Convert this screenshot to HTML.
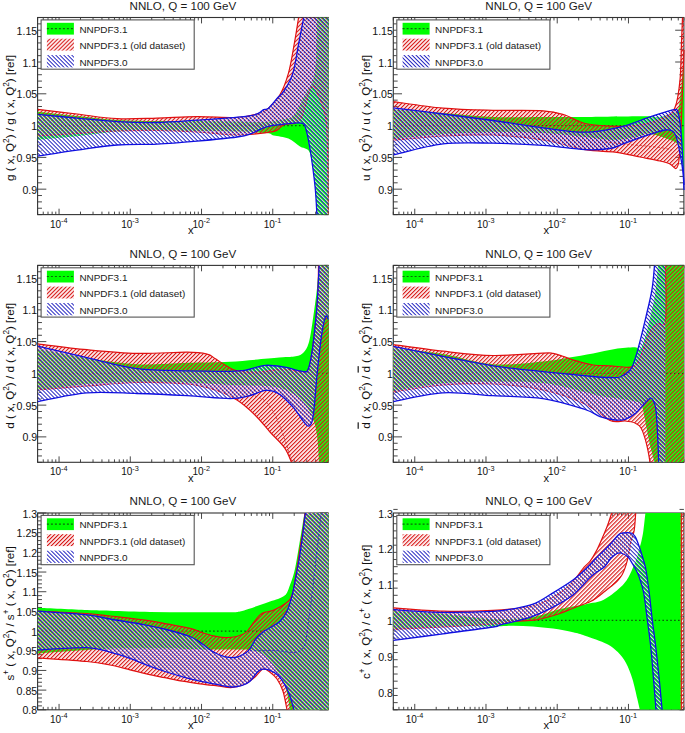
<!DOCTYPE html>
<html><head><meta charset="utf-8"><style>html,body{margin:0;padding:0;background:#fff;overflow:hidden}svg{display:block}</style></head>
<body><svg width="685" height="733" viewBox="0 0 685 733"><defs>
<pattern id="hred" patternUnits="userSpaceOnUse" width="2.83" height="2.83" patternTransform="rotate(45)">
<rect x="0" y="0" width="1.2" height="2.83" fill="#d81818"/><rect x="1.2" y="0" width="0.15" height="2.83" fill="#fff"/></pattern>
<pattern id="hblue" patternUnits="userSpaceOnUse" width="2.83" height="2.83" patternTransform="rotate(-45)">
<rect x="0" y="0" width="1.0" height="2.83" fill="#1c1cc0"/><rect x="1.0" y="0" width="0.7" height="2.83" fill="#fff"/></pattern>
</defs><rect width="685" height="733" fill="#fff"/><g stroke="#333" stroke-width="0.9" fill="none"><line x1="37.60" y1="214.6" x2="37.60" y2="211.64"/><line x1="37.60" y1="17.5" x2="37.60" y2="20.46"/><line x1="43.24" y1="214.6" x2="43.24" y2="211.64"/><line x1="43.24" y1="17.5" x2="43.24" y2="20.46"/><line x1="48.01" y1="214.6" x2="48.01" y2="211.64"/><line x1="48.01" y1="17.5" x2="48.01" y2="20.46"/><line x1="52.14" y1="214.6" x2="52.14" y2="211.64"/><line x1="52.14" y1="17.5" x2="52.14" y2="20.46"/><line x1="55.79" y1="214.6" x2="55.79" y2="211.64"/><line x1="55.79" y1="17.5" x2="55.79" y2="20.46"/><line x1="59.05" y1="214.6" x2="59.05" y2="208.69"/><line x1="59.05" y1="17.5" x2="59.05" y2="23.41"/><line x1="80.49" y1="214.6" x2="80.49" y2="211.64"/><line x1="80.49" y1="17.5" x2="80.49" y2="20.46"/><line x1="93.04" y1="214.6" x2="93.04" y2="211.64"/><line x1="93.04" y1="17.5" x2="93.04" y2="20.46"/><line x1="101.94" y1="214.6" x2="101.94" y2="211.64"/><line x1="101.94" y1="17.5" x2="101.94" y2="20.46"/><line x1="108.84" y1="214.6" x2="108.84" y2="211.64"/><line x1="108.84" y1="17.5" x2="108.84" y2="20.46"/><line x1="114.48" y1="214.6" x2="114.48" y2="211.64"/><line x1="114.48" y1="17.5" x2="114.48" y2="20.46"/><line x1="119.25" y1="214.6" x2="119.25" y2="211.64"/><line x1="119.25" y1="17.5" x2="119.25" y2="20.46"/><line x1="123.38" y1="214.6" x2="123.38" y2="211.64"/><line x1="123.38" y1="17.5" x2="123.38" y2="20.46"/><line x1="127.03" y1="214.6" x2="127.03" y2="211.64"/><line x1="127.03" y1="17.5" x2="127.03" y2="20.46"/><line x1="130.29" y1="214.6" x2="130.29" y2="208.69"/><line x1="130.29" y1="17.5" x2="130.29" y2="23.41"/><line x1="151.73" y1="214.6" x2="151.73" y2="211.64"/><line x1="151.73" y1="17.5" x2="151.73" y2="20.46"/><line x1="164.28" y1="214.6" x2="164.28" y2="211.64"/><line x1="164.28" y1="17.5" x2="164.28" y2="20.46"/><line x1="173.18" y1="214.6" x2="173.18" y2="211.64"/><line x1="173.18" y1="17.5" x2="173.18" y2="20.46"/><line x1="180.08" y1="214.6" x2="180.08" y2="211.64"/><line x1="180.08" y1="17.5" x2="180.08" y2="20.46"/><line x1="185.72" y1="214.6" x2="185.72" y2="211.64"/><line x1="185.72" y1="17.5" x2="185.72" y2="20.46"/><line x1="190.49" y1="214.6" x2="190.49" y2="211.64"/><line x1="190.49" y1="17.5" x2="190.49" y2="20.46"/><line x1="194.62" y1="214.6" x2="194.62" y2="211.64"/><line x1="194.62" y1="17.5" x2="194.62" y2="20.46"/><line x1="198.27" y1="214.6" x2="198.27" y2="211.64"/><line x1="198.27" y1="17.5" x2="198.27" y2="20.46"/><line x1="201.52" y1="214.6" x2="201.52" y2="208.69"/><line x1="201.52" y1="17.5" x2="201.52" y2="23.41"/><line x1="222.97" y1="214.6" x2="222.97" y2="211.64"/><line x1="222.97" y1="17.5" x2="222.97" y2="20.46"/><line x1="235.51" y1="214.6" x2="235.51" y2="211.64"/><line x1="235.51" y1="17.5" x2="235.51" y2="20.46"/><line x1="244.42" y1="214.6" x2="244.42" y2="211.64"/><line x1="244.42" y1="17.5" x2="244.42" y2="20.46"/><line x1="251.32" y1="214.6" x2="251.32" y2="211.64"/><line x1="251.32" y1="17.5" x2="251.32" y2="20.46"/><line x1="256.96" y1="214.6" x2="256.96" y2="211.64"/><line x1="256.96" y1="17.5" x2="256.96" y2="20.46"/><line x1="261.73" y1="214.6" x2="261.73" y2="211.64"/><line x1="261.73" y1="17.5" x2="261.73" y2="20.46"/><line x1="265.86" y1="214.6" x2="265.86" y2="211.64"/><line x1="265.86" y1="17.5" x2="265.86" y2="20.46"/><line x1="269.50" y1="214.6" x2="269.50" y2="211.64"/><line x1="269.50" y1="17.5" x2="269.50" y2="20.46"/><line x1="272.76" y1="214.6" x2="272.76" y2="208.69"/><line x1="272.76" y1="17.5" x2="272.76" y2="23.41"/><line x1="294.21" y1="214.6" x2="294.21" y2="211.64"/><line x1="294.21" y1="17.5" x2="294.21" y2="20.46"/><line x1="306.75" y1="214.6" x2="306.75" y2="211.64"/><line x1="306.75" y1="17.5" x2="306.75" y2="20.46"/><line x1="315.66" y1="214.6" x2="315.66" y2="211.64"/><line x1="315.66" y1="17.5" x2="315.66" y2="20.46"/><line x1="322.56" y1="214.6" x2="322.56" y2="211.64"/><line x1="322.56" y1="17.5" x2="322.56" y2="20.46"/><line x1="328.20" y1="214.6" x2="328.20" y2="211.64"/><line x1="328.20" y1="17.5" x2="328.20" y2="20.46"/><line x1="37.6" y1="214.60" x2="41.96" y2="214.60"/><line x1="328.20000000000005" y1="214.60" x2="323.84" y2="214.60"/><line x1="37.6" y1="208.24" x2="41.96" y2="208.24"/><line x1="328.20000000000005" y1="208.24" x2="323.84" y2="208.24"/><line x1="37.6" y1="201.88" x2="41.96" y2="201.88"/><line x1="328.20000000000005" y1="201.88" x2="323.84" y2="201.88"/><line x1="37.6" y1="195.53" x2="41.96" y2="195.53"/><line x1="328.20000000000005" y1="195.53" x2="323.84" y2="195.53"/><line x1="37.6" y1="189.17" x2="46.32" y2="189.17"/><line x1="328.20000000000005" y1="189.17" x2="319.48" y2="189.17"/><line x1="37.6" y1="182.81" x2="41.96" y2="182.81"/><line x1="328.20000000000005" y1="182.81" x2="323.84" y2="182.81"/><line x1="37.6" y1="176.45" x2="41.96" y2="176.45"/><line x1="328.20000000000005" y1="176.45" x2="323.84" y2="176.45"/><line x1="37.6" y1="170.09" x2="41.96" y2="170.09"/><line x1="328.20000000000005" y1="170.09" x2="323.84" y2="170.09"/><line x1="37.6" y1="163.74" x2="41.96" y2="163.74"/><line x1="328.20000000000005" y1="163.74" x2="323.84" y2="163.74"/><line x1="37.6" y1="157.38" x2="46.32" y2="157.38"/><line x1="328.20000000000005" y1="157.38" x2="319.48" y2="157.38"/><line x1="37.6" y1="151.02" x2="41.96" y2="151.02"/><line x1="328.20000000000005" y1="151.02" x2="323.84" y2="151.02"/><line x1="37.6" y1="144.66" x2="41.96" y2="144.66"/><line x1="328.20000000000005" y1="144.66" x2="323.84" y2="144.66"/><line x1="37.6" y1="138.30" x2="41.96" y2="138.30"/><line x1="328.20000000000005" y1="138.30" x2="323.84" y2="138.30"/><line x1="37.6" y1="131.95" x2="41.96" y2="131.95"/><line x1="328.20000000000005" y1="131.95" x2="323.84" y2="131.95"/><line x1="37.6" y1="125.59" x2="46.32" y2="125.59"/><line x1="328.20000000000005" y1="125.59" x2="319.48" y2="125.59"/><line x1="37.6" y1="119.23" x2="41.96" y2="119.23"/><line x1="328.20000000000005" y1="119.23" x2="323.84" y2="119.23"/><line x1="37.6" y1="112.87" x2="41.96" y2="112.87"/><line x1="328.20000000000005" y1="112.87" x2="323.84" y2="112.87"/><line x1="37.6" y1="106.51" x2="41.96" y2="106.51"/><line x1="328.20000000000005" y1="106.51" x2="323.84" y2="106.51"/><line x1="37.6" y1="100.15" x2="41.96" y2="100.15"/><line x1="328.20000000000005" y1="100.15" x2="323.84" y2="100.15"/><line x1="37.6" y1="93.80" x2="46.32" y2="93.80"/><line x1="328.20000000000005" y1="93.80" x2="319.48" y2="93.80"/><line x1="37.6" y1="87.44" x2="41.96" y2="87.44"/><line x1="328.20000000000005" y1="87.44" x2="323.84" y2="87.44"/><line x1="37.6" y1="81.08" x2="41.96" y2="81.08"/><line x1="328.20000000000005" y1="81.08" x2="323.84" y2="81.08"/><line x1="37.6" y1="74.72" x2="41.96" y2="74.72"/><line x1="328.20000000000005" y1="74.72" x2="323.84" y2="74.72"/><line x1="37.6" y1="68.36" x2="41.96" y2="68.36"/><line x1="328.20000000000005" y1="68.36" x2="323.84" y2="68.36"/><line x1="37.6" y1="62.01" x2="46.32" y2="62.01"/><line x1="328.20000000000005" y1="62.01" x2="319.48" y2="62.01"/><line x1="37.6" y1="55.65" x2="41.96" y2="55.65"/><line x1="328.20000000000005" y1="55.65" x2="323.84" y2="55.65"/><line x1="37.6" y1="49.29" x2="41.96" y2="49.29"/><line x1="328.20000000000005" y1="49.29" x2="323.84" y2="49.29"/><line x1="37.6" y1="42.93" x2="41.96" y2="42.93"/><line x1="328.20000000000005" y1="42.93" x2="323.84" y2="42.93"/><line x1="37.6" y1="36.57" x2="41.96" y2="36.57"/><line x1="328.20000000000005" y1="36.57" x2="323.84" y2="36.57"/><line x1="37.6" y1="30.22" x2="46.32" y2="30.22"/><line x1="328.20000000000005" y1="30.22" x2="319.48" y2="30.22"/><line x1="37.6" y1="23.86" x2="41.96" y2="23.86"/><line x1="328.20000000000005" y1="23.86" x2="323.84" y2="23.86"/><line x1="37.6" y1="17.50" x2="41.96" y2="17.50"/><line x1="328.20000000000005" y1="17.50" x2="323.84" y2="17.50"/></g>
<rect x="37.6" y="17.5" width="290.6" height="197.10" fill="none" stroke="#333" stroke-width="1.1"/>
<g font-family="Liberation Sans" fill="#111"><text x="37.20" y="193.77" text-anchor="end" font-size="10.6">0.9</text><text x="37.20" y="161.98" text-anchor="end" font-size="10.6">0.95</text><text x="37.20" y="130.19" text-anchor="end" font-size="10.6">1</text><text x="37.20" y="98.40" text-anchor="end" font-size="10.6">1.05</text><text x="37.20" y="66.61" text-anchor="end" font-size="10.6">1.1</text><text x="37.20" y="34.82" text-anchor="end" font-size="10.6">1.15</text><text x="49.95" y="227.50" font-size="10">10<tspan dy="-4.4" font-size="7.3">-4</tspan></text><text x="121.19" y="227.50" font-size="10">10<tspan dy="-4.4" font-size="7.3">-3</tspan></text><text x="192.42" y="227.50" font-size="10">10<tspan dy="-4.4" font-size="7.3">-2</tspan></text><text x="263.66" y="227.50" font-size="10">10<tspan dy="-4.4" font-size="7.3">-1</tspan></text></g>
<text x="187.90" y="233.90" font-family="Liberation Sans" font-size="11.2" fill="#111">x</text>
<text x="182.90" y="9.9" transform="translate(0,0.00)" text-anchor="middle" font-family="Liberation Sans" font-size="11.6" fill="#1a1a1a">NNLO, Q = 100 GeV</text>
<text transform="translate(13.90,118.05) rotate(-90)" text-anchor="middle" font-family="Liberation Sans" font-size="11.6" fill="#111">g ( x, Q<tspan dy="-4.8" font-size="8.3">2</tspan><tspan dy="4.8">) / </tspan>g ( x, Q<tspan dy="-4.8" font-size="8.3">2</tspan><tspan dy="4.8">) [ref]</tspan></text>
<clipPath id="clip0"><rect x="37.6" y="17.5" width="291.8" height="197.10"/></clipPath>
<g clip-path="url(#clip0)">
<path d="M37.60,111.70 C44.17,112.42 63.77,114.62 77.00,116.00 C90.23,117.38 103.67,119.17 117.00,120.00 C130.33,120.83 143.67,120.83 157.00,121.00 C170.33,121.17 183.67,120.92 197.00,121.00 C210.33,121.08 225.50,121.33 237.00,121.50 C248.50,121.67 258.00,122.42 266.00,122.00 C274.00,121.58 280.33,120.17 285.00,119.00 C289.67,117.83 290.67,119.00 294.00,115.00 C297.33,111.00 301.83,100.83 305.00,95.00 C308.17,89.17 311.17,85.83 313.00,80.00 C314.83,74.17 315.33,70.42 316.00,60.00 C316.67,49.58 316.83,24.58 317.00,17.50 L328.60,17.50 L328.60,214.60L316.90,214.60 C316.65,210.55 316.13,198.48 315.40,190.30 C314.67,182.12 313.47,171.83 312.50,165.50 C311.53,159.17 310.70,155.10 309.60,152.30 C308.50,149.50 307.50,149.67 305.90,148.70 C304.30,147.73 302.92,148.20 300.00,146.50 C297.08,144.80 292.77,140.33 288.40,138.50 C284.03,136.67 277.45,136.42 273.80,135.50 C270.15,134.58 272.63,133.67 266.50,133.00 C260.37,132.33 248.58,131.83 237.00,131.50 C225.42,131.17 210.33,131.17 197.00,131.00 C183.67,130.83 170.33,130.42 157.00,130.50 C143.67,130.58 130.33,130.55 117.00,131.50 C103.67,132.45 90.23,134.83 77.00,136.20 C63.77,137.57 44.17,139.12 37.60,139.70 Z" fill="#00ff00"/>
<clipPath id="gclip0"><path d="M37.60,111.70 C44.17,112.42 63.77,114.62 77.00,116.00 C90.23,117.38 103.67,119.17 117.00,120.00 C130.33,120.83 143.67,120.83 157.00,121.00 C170.33,121.17 183.67,120.92 197.00,121.00 C210.33,121.08 225.50,121.33 237.00,121.50 C248.50,121.67 258.00,122.42 266.00,122.00 C274.00,121.58 280.33,120.17 285.00,119.00 C289.67,117.83 290.67,119.00 294.00,115.00 C297.33,111.00 301.83,100.83 305.00,95.00 C308.17,89.17 311.17,85.83 313.00,80.00 C314.83,74.17 315.33,70.42 316.00,60.00 C316.67,49.58 316.83,24.58 317.00,17.50 L328.60,17.50 L328.60,214.60L316.90,214.60 C316.65,210.55 316.13,198.48 315.40,190.30 C314.67,182.12 313.47,171.83 312.50,165.50 C311.53,159.17 310.70,155.10 309.60,152.30 C308.50,149.50 307.50,149.67 305.90,148.70 C304.30,147.73 302.92,148.20 300.00,146.50 C297.08,144.80 292.77,140.33 288.40,138.50 C284.03,136.67 277.45,136.42 273.80,135.50 C270.15,134.58 272.63,133.67 266.50,133.00 C260.37,132.33 248.58,131.83 237.00,131.50 C225.42,131.17 210.33,131.17 197.00,131.00 C183.67,130.83 170.33,130.42 157.00,130.50 C143.67,130.58 130.33,130.55 117.00,131.50 C103.67,132.45 90.23,134.83 77.00,136.20 C63.77,137.57 44.17,139.12 37.60,139.70 Z"/></clipPath>
<line x1="37.6" y1="125.59" x2="328.20000000000005" y2="125.59" stroke="#0b5a0b" stroke-width="1.2" stroke-dasharray="1.6,2.3" clip-path="url(#gclip0)"/>
<path d="M37.60,109.30 C44.17,110.08 63.77,112.43 77.00,114.00 C90.23,115.57 103.67,118.02 117.00,118.70 C130.33,119.38 143.67,118.45 157.00,118.10 C170.33,117.75 183.67,116.70 197.00,116.60 C210.33,116.50 227.00,117.93 237.00,117.50 C247.00,117.07 252.08,115.27 257.00,114.00 C261.92,112.73 262.73,113.02 266.50,109.90 C270.27,106.78 275.95,101.38 279.60,95.30 C283.25,89.22 285.97,81.92 288.40,73.40 C290.83,64.88 292.50,53.52 294.20,44.20 C295.90,34.88 297.87,21.95 298.60,17.50 L328.60,17.50 L328.60,214.60L328.00,214.60 C327.93,205.50 327.93,175.77 327.60,160.00 C327.27,144.23 327.60,130.83 326.00,120.00 C324.40,109.17 320.50,100.33 318.00,95.00 C315.50,89.67 314.00,83.83 311.00,88.00 C308.00,92.17 304.50,113.90 300.00,120.00 C295.50,126.10 287.88,122.87 284.00,124.60 C280.12,126.33 279.62,129.07 276.70,130.40 C273.78,131.73 273.12,131.83 266.50,132.60 C259.88,133.37 248.58,135.10 237.00,135.00 C225.42,134.90 210.33,132.75 197.00,132.00 C183.67,131.25 170.33,130.67 157.00,130.50 C143.67,130.33 130.33,130.50 117.00,131.00 C103.67,131.50 90.23,132.67 77.00,133.50 C63.77,134.33 44.17,135.58 37.60,136.00 Z" fill="url(#hred)"/>
<path d="M37.60,109.30 C44.17,110.08 63.77,112.43 77.00,114.00 C90.23,115.57 103.67,118.02 117.00,118.70 C130.33,119.38 143.67,118.45 157.00,118.10 C170.33,117.75 183.67,116.70 197.00,116.60 C210.33,116.50 227.00,117.93 237.00,117.50 C247.00,117.07 252.08,115.27 257.00,114.00 C261.92,112.73 262.73,113.02 266.50,109.90 C270.27,106.78 275.95,101.38 279.60,95.30 C283.25,89.22 285.97,81.92 288.40,73.40 C290.83,64.88 292.50,53.52 294.20,44.20 C295.90,34.88 297.87,21.95 298.60,17.50" fill="none" stroke="#e01010" stroke-width="1.2"/>
<path d="M37.60,136.00 C44.17,135.58 63.77,134.33 77.00,133.50 C90.23,132.67 103.67,131.50 117.00,131.00 C130.33,130.50 143.67,130.33 157.00,130.50 C170.33,130.67 183.67,131.25 197.00,132.00 C210.33,132.75 225.42,134.90 237.00,135.00 C248.58,135.10 259.88,133.37 266.50,132.60 C273.12,131.83 273.78,131.73 276.70,130.40 C279.62,129.07 280.12,126.33 284.00,124.60 C287.88,122.87 295.50,126.10 300.00,120.00 C304.50,113.90 308.00,92.17 311.00,88.00 C314.00,83.83 315.50,89.67 318.00,95.00 C320.50,100.33 324.40,109.17 326.00,120.00 C327.60,130.83 327.27,144.23 327.60,160.00 C327.93,175.77 327.93,205.50 328.00,214.60" fill="none" stroke="#e01010" stroke-width="1.2"/>
<path d="M37.60,114.30 C44.17,114.93 63.77,116.88 77.00,118.10 C90.23,119.32 103.67,120.87 117.00,121.60 C130.33,122.33 143.67,122.75 157.00,122.50 C170.33,122.25 182.55,121.08 197.00,120.10 C211.45,119.12 233.58,117.67 243.70,116.60 C253.82,115.53 254.38,114.87 257.70,113.70 C261.02,112.53 261.85,110.48 263.60,109.60 C265.35,108.72 265.97,110.25 268.20,108.40 C270.43,106.55 274.37,101.42 277.00,98.50 C279.63,95.58 281.37,95.08 284.00,90.90 C286.63,86.72 290.37,81.18 292.80,73.40 C295.23,65.62 296.78,53.52 298.60,44.20 C300.42,34.88 302.85,21.95 303.70,17.50 L328.60,17.50 L328.60,214.60L316.90,214.60 C316.65,210.55 316.13,198.48 315.40,190.30 C314.67,182.12 313.47,172.80 312.50,165.50 C311.53,158.20 310.70,152.58 309.60,146.50 C308.50,140.42 307.25,132.90 305.90,129.00 C304.55,125.10 304.90,123.95 301.50,123.10 C298.10,122.25 291.33,123.28 285.50,123.90 C279.67,124.52 272.10,125.22 266.50,126.80 C260.90,128.38 256.82,131.70 251.90,133.40 C246.98,135.10 246.15,135.72 237.00,137.00 C227.85,138.28 210.33,139.92 197.00,141.10 C183.67,142.28 170.33,143.45 157.00,144.10 C143.67,144.75 130.33,143.98 117.00,145.00 C103.67,146.02 90.23,148.35 77.00,150.20 C63.77,152.05 44.17,155.12 37.60,156.10 Z" fill="url(#hblue)"/>
<path d="M37.60,114.30 C44.17,114.93 63.77,116.88 77.00,118.10 C90.23,119.32 103.67,120.87 117.00,121.60 C130.33,122.33 143.67,122.75 157.00,122.50 C170.33,122.25 182.55,121.08 197.00,120.10 C211.45,119.12 233.58,117.67 243.70,116.60 C253.82,115.53 254.38,114.87 257.70,113.70 C261.02,112.53 261.85,110.48 263.60,109.60 C265.35,108.72 265.97,110.25 268.20,108.40 C270.43,106.55 274.37,101.42 277.00,98.50 C279.63,95.58 281.37,95.08 284.00,90.90 C286.63,86.72 290.37,81.18 292.80,73.40 C295.23,65.62 296.78,53.52 298.60,44.20 C300.42,34.88 302.85,21.95 303.70,17.50" fill="none" stroke="#1010e0" stroke-width="1.3"/>
<path d="M37.60,156.10 C44.17,155.12 63.77,152.05 77.00,150.20 C90.23,148.35 103.67,146.02 117.00,145.00 C130.33,143.98 143.67,144.75 157.00,144.10 C170.33,143.45 183.67,142.28 197.00,141.10 C210.33,139.92 227.85,138.28 237.00,137.00 C246.15,135.72 246.98,135.10 251.90,133.40 C256.82,131.70 260.90,128.38 266.50,126.80 C272.10,125.22 279.67,124.52 285.50,123.90 C291.33,123.28 298.10,122.25 301.50,123.10 C304.90,123.95 304.55,125.10 305.90,129.00 C307.25,132.90 308.50,140.42 309.60,146.50 C310.70,152.58 311.53,158.20 312.50,165.50 C313.47,172.80 314.67,182.12 315.40,190.30 C316.13,198.48 316.65,210.55 316.90,214.60" fill="none" stroke="#1010e0" stroke-width="1.3"/>
</g>
<g stroke="#333" stroke-width="0.9" fill="none"><line x1="393.30" y1="214.6" x2="393.30" y2="211.64"/><line x1="393.30" y1="17.5" x2="393.30" y2="20.46"/><line x1="398.94" y1="214.6" x2="398.94" y2="211.64"/><line x1="398.94" y1="17.5" x2="398.94" y2="20.46"/><line x1="403.71" y1="214.6" x2="403.71" y2="211.64"/><line x1="403.71" y1="17.5" x2="403.71" y2="20.46"/><line x1="407.84" y1="214.6" x2="407.84" y2="211.64"/><line x1="407.84" y1="17.5" x2="407.84" y2="20.46"/><line x1="411.49" y1="214.6" x2="411.49" y2="211.64"/><line x1="411.49" y1="17.5" x2="411.49" y2="20.46"/><line x1="414.75" y1="214.6" x2="414.75" y2="208.69"/><line x1="414.75" y1="17.5" x2="414.75" y2="23.41"/><line x1="436.19" y1="214.6" x2="436.19" y2="211.64"/><line x1="436.19" y1="17.5" x2="436.19" y2="20.46"/><line x1="448.74" y1="214.6" x2="448.74" y2="211.64"/><line x1="448.74" y1="17.5" x2="448.74" y2="20.46"/><line x1="457.64" y1="214.6" x2="457.64" y2="211.64"/><line x1="457.64" y1="17.5" x2="457.64" y2="20.46"/><line x1="464.54" y1="214.6" x2="464.54" y2="211.64"/><line x1="464.54" y1="17.5" x2="464.54" y2="20.46"/><line x1="470.18" y1="214.6" x2="470.18" y2="211.64"/><line x1="470.18" y1="17.5" x2="470.18" y2="20.46"/><line x1="474.95" y1="214.6" x2="474.95" y2="211.64"/><line x1="474.95" y1="17.5" x2="474.95" y2="20.46"/><line x1="479.08" y1="214.6" x2="479.08" y2="211.64"/><line x1="479.08" y1="17.5" x2="479.08" y2="20.46"/><line x1="482.73" y1="214.6" x2="482.73" y2="211.64"/><line x1="482.73" y1="17.5" x2="482.73" y2="20.46"/><line x1="485.99" y1="214.6" x2="485.99" y2="208.69"/><line x1="485.99" y1="17.5" x2="485.99" y2="23.41"/><line x1="507.43" y1="214.6" x2="507.43" y2="211.64"/><line x1="507.43" y1="17.5" x2="507.43" y2="20.46"/><line x1="519.98" y1="214.6" x2="519.98" y2="211.64"/><line x1="519.98" y1="17.5" x2="519.98" y2="20.46"/><line x1="528.88" y1="214.6" x2="528.88" y2="211.64"/><line x1="528.88" y1="17.5" x2="528.88" y2="20.46"/><line x1="535.78" y1="214.6" x2="535.78" y2="211.64"/><line x1="535.78" y1="17.5" x2="535.78" y2="20.46"/><line x1="541.42" y1="214.6" x2="541.42" y2="211.64"/><line x1="541.42" y1="17.5" x2="541.42" y2="20.46"/><line x1="546.19" y1="214.6" x2="546.19" y2="211.64"/><line x1="546.19" y1="17.5" x2="546.19" y2="20.46"/><line x1="550.32" y1="214.6" x2="550.32" y2="211.64"/><line x1="550.32" y1="17.5" x2="550.32" y2="20.46"/><line x1="553.97" y1="214.6" x2="553.97" y2="211.64"/><line x1="553.97" y1="17.5" x2="553.97" y2="20.46"/><line x1="557.22" y1="214.6" x2="557.22" y2="208.69"/><line x1="557.22" y1="17.5" x2="557.22" y2="23.41"/><line x1="578.67" y1="214.6" x2="578.67" y2="211.64"/><line x1="578.67" y1="17.5" x2="578.67" y2="20.46"/><line x1="591.21" y1="214.6" x2="591.21" y2="211.64"/><line x1="591.21" y1="17.5" x2="591.21" y2="20.46"/><line x1="600.12" y1="214.6" x2="600.12" y2="211.64"/><line x1="600.12" y1="17.5" x2="600.12" y2="20.46"/><line x1="607.02" y1="214.6" x2="607.02" y2="211.64"/><line x1="607.02" y1="17.5" x2="607.02" y2="20.46"/><line x1="612.66" y1="214.6" x2="612.66" y2="211.64"/><line x1="612.66" y1="17.5" x2="612.66" y2="20.46"/><line x1="617.43" y1="214.6" x2="617.43" y2="211.64"/><line x1="617.43" y1="17.5" x2="617.43" y2="20.46"/><line x1="621.56" y1="214.6" x2="621.56" y2="211.64"/><line x1="621.56" y1="17.5" x2="621.56" y2="20.46"/><line x1="625.20" y1="214.6" x2="625.20" y2="211.64"/><line x1="625.20" y1="17.5" x2="625.20" y2="20.46"/><line x1="628.46" y1="214.6" x2="628.46" y2="208.69"/><line x1="628.46" y1="17.5" x2="628.46" y2="23.41"/><line x1="649.91" y1="214.6" x2="649.91" y2="211.64"/><line x1="649.91" y1="17.5" x2="649.91" y2="20.46"/><line x1="662.45" y1="214.6" x2="662.45" y2="211.64"/><line x1="662.45" y1="17.5" x2="662.45" y2="20.46"/><line x1="671.36" y1="214.6" x2="671.36" y2="211.64"/><line x1="671.36" y1="17.5" x2="671.36" y2="20.46"/><line x1="678.26" y1="214.6" x2="678.26" y2="211.64"/><line x1="678.26" y1="17.5" x2="678.26" y2="20.46"/><line x1="683.90" y1="214.6" x2="683.90" y2="211.64"/><line x1="683.90" y1="17.5" x2="683.90" y2="20.46"/><line x1="393.3" y1="214.60" x2="397.66" y2="214.60"/><line x1="683.9000000000001" y1="214.60" x2="679.54" y2="214.60"/><line x1="393.3" y1="208.24" x2="397.66" y2="208.24"/><line x1="683.9000000000001" y1="208.24" x2="679.54" y2="208.24"/><line x1="393.3" y1="201.88" x2="397.66" y2="201.88"/><line x1="683.9000000000001" y1="201.88" x2="679.54" y2="201.88"/><line x1="393.3" y1="195.53" x2="397.66" y2="195.53"/><line x1="683.9000000000001" y1="195.53" x2="679.54" y2="195.53"/><line x1="393.3" y1="189.17" x2="402.02" y2="189.17"/><line x1="683.9000000000001" y1="189.17" x2="675.18" y2="189.17"/><line x1="393.3" y1="182.81" x2="397.66" y2="182.81"/><line x1="683.9000000000001" y1="182.81" x2="679.54" y2="182.81"/><line x1="393.3" y1="176.45" x2="397.66" y2="176.45"/><line x1="683.9000000000001" y1="176.45" x2="679.54" y2="176.45"/><line x1="393.3" y1="170.09" x2="397.66" y2="170.09"/><line x1="683.9000000000001" y1="170.09" x2="679.54" y2="170.09"/><line x1="393.3" y1="163.74" x2="397.66" y2="163.74"/><line x1="683.9000000000001" y1="163.74" x2="679.54" y2="163.74"/><line x1="393.3" y1="157.38" x2="402.02" y2="157.38"/><line x1="683.9000000000001" y1="157.38" x2="675.18" y2="157.38"/><line x1="393.3" y1="151.02" x2="397.66" y2="151.02"/><line x1="683.9000000000001" y1="151.02" x2="679.54" y2="151.02"/><line x1="393.3" y1="144.66" x2="397.66" y2="144.66"/><line x1="683.9000000000001" y1="144.66" x2="679.54" y2="144.66"/><line x1="393.3" y1="138.30" x2="397.66" y2="138.30"/><line x1="683.9000000000001" y1="138.30" x2="679.54" y2="138.30"/><line x1="393.3" y1="131.95" x2="397.66" y2="131.95"/><line x1="683.9000000000001" y1="131.95" x2="679.54" y2="131.95"/><line x1="393.3" y1="125.59" x2="402.02" y2="125.59"/><line x1="683.9000000000001" y1="125.59" x2="675.18" y2="125.59"/><line x1="393.3" y1="119.23" x2="397.66" y2="119.23"/><line x1="683.9000000000001" y1="119.23" x2="679.54" y2="119.23"/><line x1="393.3" y1="112.87" x2="397.66" y2="112.87"/><line x1="683.9000000000001" y1="112.87" x2="679.54" y2="112.87"/><line x1="393.3" y1="106.51" x2="397.66" y2="106.51"/><line x1="683.9000000000001" y1="106.51" x2="679.54" y2="106.51"/><line x1="393.3" y1="100.15" x2="397.66" y2="100.15"/><line x1="683.9000000000001" y1="100.15" x2="679.54" y2="100.15"/><line x1="393.3" y1="93.80" x2="402.02" y2="93.80"/><line x1="683.9000000000001" y1="93.80" x2="675.18" y2="93.80"/><line x1="393.3" y1="87.44" x2="397.66" y2="87.44"/><line x1="683.9000000000001" y1="87.44" x2="679.54" y2="87.44"/><line x1="393.3" y1="81.08" x2="397.66" y2="81.08"/><line x1="683.9000000000001" y1="81.08" x2="679.54" y2="81.08"/><line x1="393.3" y1="74.72" x2="397.66" y2="74.72"/><line x1="683.9000000000001" y1="74.72" x2="679.54" y2="74.72"/><line x1="393.3" y1="68.36" x2="397.66" y2="68.36"/><line x1="683.9000000000001" y1="68.36" x2="679.54" y2="68.36"/><line x1="393.3" y1="62.01" x2="402.02" y2="62.01"/><line x1="683.9000000000001" y1="62.01" x2="675.18" y2="62.01"/><line x1="393.3" y1="55.65" x2="397.66" y2="55.65"/><line x1="683.9000000000001" y1="55.65" x2="679.54" y2="55.65"/><line x1="393.3" y1="49.29" x2="397.66" y2="49.29"/><line x1="683.9000000000001" y1="49.29" x2="679.54" y2="49.29"/><line x1="393.3" y1="42.93" x2="397.66" y2="42.93"/><line x1="683.9000000000001" y1="42.93" x2="679.54" y2="42.93"/><line x1="393.3" y1="36.57" x2="397.66" y2="36.57"/><line x1="683.9000000000001" y1="36.57" x2="679.54" y2="36.57"/><line x1="393.3" y1="30.22" x2="402.02" y2="30.22"/><line x1="683.9000000000001" y1="30.22" x2="675.18" y2="30.22"/><line x1="393.3" y1="23.86" x2="397.66" y2="23.86"/><line x1="683.9000000000001" y1="23.86" x2="679.54" y2="23.86"/><line x1="393.3" y1="17.50" x2="397.66" y2="17.50"/><line x1="683.9000000000001" y1="17.50" x2="679.54" y2="17.50"/></g>
<rect x="393.3" y="17.5" width="290.6" height="197.10" fill="none" stroke="#333" stroke-width="1.1"/>
<g font-family="Liberation Sans" fill="#111"><text x="392.90" y="193.77" text-anchor="end" font-size="10.6">0.9</text><text x="392.90" y="161.98" text-anchor="end" font-size="10.6">0.95</text><text x="392.90" y="130.19" text-anchor="end" font-size="10.6">1</text><text x="392.90" y="98.40" text-anchor="end" font-size="10.6">1.05</text><text x="392.90" y="66.61" text-anchor="end" font-size="10.6">1.1</text><text x="392.90" y="34.82" text-anchor="end" font-size="10.6">1.15</text><text x="405.65" y="227.50" font-size="10">10<tspan dy="-4.4" font-size="7.3">-4</tspan></text><text x="476.89" y="227.50" font-size="10">10<tspan dy="-4.4" font-size="7.3">-3</tspan></text><text x="548.12" y="227.50" font-size="10">10<tspan dy="-4.4" font-size="7.3">-2</tspan></text><text x="619.36" y="227.50" font-size="10">10<tspan dy="-4.4" font-size="7.3">-1</tspan></text></g>
<text x="543.60" y="233.90" font-family="Liberation Sans" font-size="11.2" fill="#111">x</text>
<text x="538.60" y="9.9" transform="translate(0,0.00)" text-anchor="middle" font-family="Liberation Sans" font-size="11.6" fill="#1a1a1a">NNLO, Q = 100 GeV</text>
<text transform="translate(369.60,118.05) rotate(-90)" text-anchor="middle" font-family="Liberation Sans" font-size="11.6" fill="#111">u ( x, Q<tspan dy="-4.8" font-size="8.3">2</tspan><tspan dy="4.8">) / </tspan>u ( x, Q<tspan dy="-4.8" font-size="8.3">2</tspan><tspan dy="4.8">) [ref]</tspan></text>
<clipPath id="clip1"><rect x="393.3" y="17.5" width="291.8" height="197.10"/></clipPath>
<g clip-path="url(#clip1)">
<path d="M393.30,109.60 C401.58,110.17 426.38,111.77 443.00,113.00 C459.62,114.23 476.33,116.35 493.00,117.00 C509.67,117.65 527.67,116.92 543.00,116.90 C558.33,116.88 568.00,117.02 585.00,116.90 C602.00,116.78 632.50,116.18 645.00,116.20 C657.50,116.22 655.50,117.53 660.00,117.00 C664.50,116.47 669.00,114.17 672.00,113.00 C675.00,111.83 676.50,113.83 678.00,110.00 C679.50,106.17 680.00,98.33 681.00,90.00 C682.00,81.67 683.50,65.00 684.00,60.00 L684.00,60.00L684.00,175.00 C683.67,172.50 683.00,165.00 682.00,160.00 C681.00,155.00 680.00,148.35 678.00,145.00 C676.00,141.65 674.67,141.78 670.00,139.90 C665.33,138.02 655.00,134.35 650.00,133.70 C645.00,133.05 645.83,134.95 640.00,136.00 C634.17,137.05 624.17,139.83 615.00,140.00 C605.83,140.17 597.00,138.17 585.00,137.00 C573.00,135.83 558.33,133.83 543.00,133.00 C527.67,132.17 509.67,131.83 493.00,132.00 C476.33,132.17 459.62,132.87 443.00,134.00 C426.38,135.13 401.58,138.00 393.30,138.80 Z" fill="#00ff00"/>
<clipPath id="gclip1"><path d="M393.30,109.60 C401.58,110.17 426.38,111.77 443.00,113.00 C459.62,114.23 476.33,116.35 493.00,117.00 C509.67,117.65 527.67,116.92 543.00,116.90 C558.33,116.88 568.00,117.02 585.00,116.90 C602.00,116.78 632.50,116.18 645.00,116.20 C657.50,116.22 655.50,117.53 660.00,117.00 C664.50,116.47 669.00,114.17 672.00,113.00 C675.00,111.83 676.50,113.83 678.00,110.00 C679.50,106.17 680.00,98.33 681.00,90.00 C682.00,81.67 683.50,65.00 684.00,60.00 L684.00,60.00L684.00,175.00 C683.67,172.50 683.00,165.00 682.00,160.00 C681.00,155.00 680.00,148.35 678.00,145.00 C676.00,141.65 674.67,141.78 670.00,139.90 C665.33,138.02 655.00,134.35 650.00,133.70 C645.00,133.05 645.83,134.95 640.00,136.00 C634.17,137.05 624.17,139.83 615.00,140.00 C605.83,140.17 597.00,138.17 585.00,137.00 C573.00,135.83 558.33,133.83 543.00,133.00 C527.67,132.17 509.67,131.83 493.00,132.00 C476.33,132.17 459.62,132.87 443.00,134.00 C426.38,135.13 401.58,138.00 393.30,138.80 Z"/></clipPath>
<line x1="393.3" y1="125.59" x2="683.9000000000001" y2="125.59" stroke="#0b5a0b" stroke-width="1.2" stroke-dasharray="1.6,2.3" clip-path="url(#gclip1)"/>
<path d="M393.30,101.60 C401.58,102.68 426.38,106.65 443.00,108.10 C459.62,109.55 476.33,109.85 493.00,110.30 C509.67,110.75 531.00,110.02 543.00,110.80 C555.00,111.58 558.00,112.88 565.00,115.00 C572.00,117.12 575.83,121.60 585.00,123.50 C594.17,125.40 610.00,126.28 620.00,126.40 C630.00,126.52 637.50,125.77 645.00,124.20 C652.50,122.63 660.00,119.78 665.00,117.00 C670.00,114.22 672.50,113.67 675.00,107.50 C677.50,101.33 678.92,90.92 680.00,80.00 C681.08,69.08 681.08,52.42 681.50,42.00 C681.92,31.58 682.33,21.58 682.50,17.50 L684.00,17.50L684.00,50.00 C683.75,56.67 683.00,76.67 682.50,90.00 C682.00,103.33 681.58,118.33 681.00,130.00 C680.42,141.67 679.83,153.58 679.00,160.00 C678.17,166.42 677.50,167.83 676.00,168.50 C674.50,169.17 672.67,165.25 670.00,164.00 C667.33,162.75 665.00,162.17 660.00,161.00 C655.00,159.83 647.50,158.48 640.00,157.00 C632.50,155.52 624.17,153.32 615.00,152.10 C605.83,150.88 597.00,151.72 585.00,149.70 C573.00,147.68 558.33,142.45 543.00,140.00 C527.67,137.55 509.67,135.67 493.00,135.00 C476.33,134.33 459.62,135.12 443.00,136.00 C426.38,136.88 401.58,139.58 393.30,140.30 Z" fill="url(#hred)"/>
<path d="M393.30,101.60 C401.58,102.68 426.38,106.65 443.00,108.10 C459.62,109.55 476.33,109.85 493.00,110.30 C509.67,110.75 531.00,110.02 543.00,110.80 C555.00,111.58 558.00,112.88 565.00,115.00 C572.00,117.12 575.83,121.60 585.00,123.50 C594.17,125.40 610.00,126.28 620.00,126.40 C630.00,126.52 637.50,125.77 645.00,124.20 C652.50,122.63 660.00,119.78 665.00,117.00 C670.00,114.22 672.50,113.67 675.00,107.50 C677.50,101.33 678.92,90.92 680.00,80.00 C681.08,69.08 681.08,52.42 681.50,42.00 C681.92,31.58 682.33,21.58 682.50,17.50" fill="none" stroke="#e01010" stroke-width="1.2"/>
<path d="M393.30,140.30 C401.58,139.58 426.38,136.88 443.00,136.00 C459.62,135.12 476.33,134.33 493.00,135.00 C509.67,135.67 527.67,137.55 543.00,140.00 C558.33,142.45 573.00,147.68 585.00,149.70 C597.00,151.72 605.83,150.88 615.00,152.10 C624.17,153.32 632.50,155.52 640.00,157.00 C647.50,158.48 655.00,159.83 660.00,161.00 C665.00,162.17 667.33,162.75 670.00,164.00 C672.67,165.25 674.50,169.17 676.00,168.50 C677.50,167.83 678.17,166.42 679.00,160.00 C679.83,153.58 680.42,141.67 681.00,130.00 C681.58,118.33 682.00,103.33 682.50,90.00 C683.00,76.67 683.75,56.67 684.00,50.00" fill="none" stroke="#e01010" stroke-width="1.2"/>
<path d="M393.30,107.80 C401.58,108.83 426.38,111.88 443.00,114.00 C459.62,116.12 476.33,118.20 493.00,120.50 C509.67,122.80 527.67,125.85 543.00,127.80 C558.33,129.75 572.17,132.32 585.00,132.20 C597.83,132.08 609.17,129.65 620.00,127.10 C630.83,124.55 642.00,119.57 650.00,116.90 C658.00,114.23 663.83,112.32 668.00,111.10 C672.17,109.88 673.33,109.48 675.00,109.60 C676.67,109.72 677.00,108.15 678.00,111.80 C679.00,115.45 680.13,122.13 681.00,131.50 C681.87,140.87 682.70,159.08 683.20,168.00 C683.70,176.92 683.87,182.17 684.00,185.00L684.00,190.00 C683.83,187.07 683.67,178.50 683.00,172.40 C682.33,166.30 681.17,159.48 680.00,153.40 C678.83,147.32 677.33,139.67 676.00,135.90 C674.67,132.13 673.83,131.78 672.00,130.80 C670.17,129.82 668.67,129.40 665.00,130.00 C661.33,130.60 656.67,132.20 650.00,134.40 C643.33,136.60 631.67,140.85 625.00,143.20 C618.33,145.55 616.67,147.42 610.00,148.50 C603.33,149.58 596.17,150.22 585.00,149.70 C573.83,149.18 558.33,146.48 543.00,145.40 C527.67,144.32 509.67,143.45 493.00,143.20 C476.33,142.95 459.62,141.95 443.00,143.90 C426.38,145.85 401.58,153.07 393.30,154.90 Z" fill="url(#hblue)"/>
<path d="M605.00,142.00 C607.50,142.25 614.17,142.92 620.00,143.50 C625.83,144.08 633.33,144.83 640.00,145.50 C646.67,146.17 654.67,146.75 660.00,147.50 C665.33,148.25 670.00,149.58 672.00,150.00" fill="none" stroke="#d01818" stroke-width="0.9" stroke-opacity="0.75" stroke-dasharray="2.4,2"/>
<path d="M393.30,107.80 C401.58,108.83 426.38,111.88 443.00,114.00 C459.62,116.12 476.33,118.20 493.00,120.50 C509.67,122.80 527.67,125.85 543.00,127.80 C558.33,129.75 572.17,132.32 585.00,132.20 C597.83,132.08 609.17,129.65 620.00,127.10 C630.83,124.55 642.00,119.57 650.00,116.90 C658.00,114.23 663.83,112.32 668.00,111.10 C672.17,109.88 673.33,109.48 675.00,109.60 C676.67,109.72 677.00,108.15 678.00,111.80 C679.00,115.45 680.13,122.13 681.00,131.50 C681.87,140.87 682.70,159.08 683.20,168.00 C683.70,176.92 683.87,182.17 684.00,185.00" fill="none" stroke="#1010e0" stroke-width="1.3"/>
<path d="M393.30,154.90 C401.58,153.07 426.38,145.85 443.00,143.90 C459.62,141.95 476.33,142.95 493.00,143.20 C509.67,143.45 527.67,144.32 543.00,145.40 C558.33,146.48 573.83,149.18 585.00,149.70 C596.17,150.22 603.33,149.58 610.00,148.50 C616.67,147.42 618.33,145.55 625.00,143.20 C631.67,140.85 643.33,136.60 650.00,134.40 C656.67,132.20 661.33,130.60 665.00,130.00 C668.67,129.40 670.17,129.82 672.00,130.80 C673.83,131.78 674.67,132.13 676.00,135.90 C677.33,139.67 678.83,147.32 680.00,153.40 C681.17,159.48 682.33,166.30 683.00,172.40 C683.67,178.50 683.83,187.07 684.00,190.00" fill="none" stroke="#1010e0" stroke-width="1.3"/>
</g>
<g stroke="#333" stroke-width="0.9" fill="none"><line x1="37.60" y1="462.3" x2="37.60" y2="459.35"/><line x1="37.60" y1="265.4" x2="37.60" y2="268.35"/><line x1="43.24" y1="462.3" x2="43.24" y2="459.35"/><line x1="43.24" y1="265.4" x2="43.24" y2="268.35"/><line x1="48.01" y1="462.3" x2="48.01" y2="459.35"/><line x1="48.01" y1="265.4" x2="48.01" y2="268.35"/><line x1="52.14" y1="462.3" x2="52.14" y2="459.35"/><line x1="52.14" y1="265.4" x2="52.14" y2="268.35"/><line x1="55.79" y1="462.3" x2="55.79" y2="459.35"/><line x1="55.79" y1="265.4" x2="55.79" y2="268.35"/><line x1="59.05" y1="462.3" x2="59.05" y2="456.39"/><line x1="59.05" y1="265.4" x2="59.05" y2="271.31"/><line x1="80.49" y1="462.3" x2="80.49" y2="459.35"/><line x1="80.49" y1="265.4" x2="80.49" y2="268.35"/><line x1="93.04" y1="462.3" x2="93.04" y2="459.35"/><line x1="93.04" y1="265.4" x2="93.04" y2="268.35"/><line x1="101.94" y1="462.3" x2="101.94" y2="459.35"/><line x1="101.94" y1="265.4" x2="101.94" y2="268.35"/><line x1="108.84" y1="462.3" x2="108.84" y2="459.35"/><line x1="108.84" y1="265.4" x2="108.84" y2="268.35"/><line x1="114.48" y1="462.3" x2="114.48" y2="459.35"/><line x1="114.48" y1="265.4" x2="114.48" y2="268.35"/><line x1="119.25" y1="462.3" x2="119.25" y2="459.35"/><line x1="119.25" y1="265.4" x2="119.25" y2="268.35"/><line x1="123.38" y1="462.3" x2="123.38" y2="459.35"/><line x1="123.38" y1="265.4" x2="123.38" y2="268.35"/><line x1="127.03" y1="462.3" x2="127.03" y2="459.35"/><line x1="127.03" y1="265.4" x2="127.03" y2="268.35"/><line x1="130.29" y1="462.3" x2="130.29" y2="456.39"/><line x1="130.29" y1="265.4" x2="130.29" y2="271.31"/><line x1="151.73" y1="462.3" x2="151.73" y2="459.35"/><line x1="151.73" y1="265.4" x2="151.73" y2="268.35"/><line x1="164.28" y1="462.3" x2="164.28" y2="459.35"/><line x1="164.28" y1="265.4" x2="164.28" y2="268.35"/><line x1="173.18" y1="462.3" x2="173.18" y2="459.35"/><line x1="173.18" y1="265.4" x2="173.18" y2="268.35"/><line x1="180.08" y1="462.3" x2="180.08" y2="459.35"/><line x1="180.08" y1="265.4" x2="180.08" y2="268.35"/><line x1="185.72" y1="462.3" x2="185.72" y2="459.35"/><line x1="185.72" y1="265.4" x2="185.72" y2="268.35"/><line x1="190.49" y1="462.3" x2="190.49" y2="459.35"/><line x1="190.49" y1="265.4" x2="190.49" y2="268.35"/><line x1="194.62" y1="462.3" x2="194.62" y2="459.35"/><line x1="194.62" y1="265.4" x2="194.62" y2="268.35"/><line x1="198.27" y1="462.3" x2="198.27" y2="459.35"/><line x1="198.27" y1="265.4" x2="198.27" y2="268.35"/><line x1="201.52" y1="462.3" x2="201.52" y2="456.39"/><line x1="201.52" y1="265.4" x2="201.52" y2="271.31"/><line x1="222.97" y1="462.3" x2="222.97" y2="459.35"/><line x1="222.97" y1="265.4" x2="222.97" y2="268.35"/><line x1="235.51" y1="462.3" x2="235.51" y2="459.35"/><line x1="235.51" y1="265.4" x2="235.51" y2="268.35"/><line x1="244.42" y1="462.3" x2="244.42" y2="459.35"/><line x1="244.42" y1="265.4" x2="244.42" y2="268.35"/><line x1="251.32" y1="462.3" x2="251.32" y2="459.35"/><line x1="251.32" y1="265.4" x2="251.32" y2="268.35"/><line x1="256.96" y1="462.3" x2="256.96" y2="459.35"/><line x1="256.96" y1="265.4" x2="256.96" y2="268.35"/><line x1="261.73" y1="462.3" x2="261.73" y2="459.35"/><line x1="261.73" y1="265.4" x2="261.73" y2="268.35"/><line x1="265.86" y1="462.3" x2="265.86" y2="459.35"/><line x1="265.86" y1="265.4" x2="265.86" y2="268.35"/><line x1="269.50" y1="462.3" x2="269.50" y2="459.35"/><line x1="269.50" y1="265.4" x2="269.50" y2="268.35"/><line x1="272.76" y1="462.3" x2="272.76" y2="456.39"/><line x1="272.76" y1="265.4" x2="272.76" y2="271.31"/><line x1="294.21" y1="462.3" x2="294.21" y2="459.35"/><line x1="294.21" y1="265.4" x2="294.21" y2="268.35"/><line x1="306.75" y1="462.3" x2="306.75" y2="459.35"/><line x1="306.75" y1="265.4" x2="306.75" y2="268.35"/><line x1="315.66" y1="462.3" x2="315.66" y2="459.35"/><line x1="315.66" y1="265.4" x2="315.66" y2="268.35"/><line x1="322.56" y1="462.3" x2="322.56" y2="459.35"/><line x1="322.56" y1="265.4" x2="322.56" y2="268.35"/><line x1="328.20" y1="462.3" x2="328.20" y2="459.35"/><line x1="328.20" y1="265.4" x2="328.20" y2="268.35"/><line x1="37.6" y1="462.30" x2="41.96" y2="462.30"/><line x1="328.20000000000005" y1="462.30" x2="323.84" y2="462.30"/><line x1="37.6" y1="455.95" x2="41.96" y2="455.95"/><line x1="328.20000000000005" y1="455.95" x2="323.84" y2="455.95"/><line x1="37.6" y1="449.60" x2="41.96" y2="449.60"/><line x1="328.20000000000005" y1="449.60" x2="323.84" y2="449.60"/><line x1="37.6" y1="443.25" x2="41.96" y2="443.25"/><line x1="328.20000000000005" y1="443.25" x2="323.84" y2="443.25"/><line x1="37.6" y1="436.89" x2="46.32" y2="436.89"/><line x1="328.20000000000005" y1="436.89" x2="319.48" y2="436.89"/><line x1="37.6" y1="430.54" x2="41.96" y2="430.54"/><line x1="328.20000000000005" y1="430.54" x2="323.84" y2="430.54"/><line x1="37.6" y1="424.19" x2="41.96" y2="424.19"/><line x1="328.20000000000005" y1="424.19" x2="323.84" y2="424.19"/><line x1="37.6" y1="417.84" x2="41.96" y2="417.84"/><line x1="328.20000000000005" y1="417.84" x2="323.84" y2="417.84"/><line x1="37.6" y1="411.49" x2="41.96" y2="411.49"/><line x1="328.20000000000005" y1="411.49" x2="323.84" y2="411.49"/><line x1="37.6" y1="405.14" x2="46.32" y2="405.14"/><line x1="328.20000000000005" y1="405.14" x2="319.48" y2="405.14"/><line x1="37.6" y1="398.78" x2="41.96" y2="398.78"/><line x1="328.20000000000005" y1="398.78" x2="323.84" y2="398.78"/><line x1="37.6" y1="392.43" x2="41.96" y2="392.43"/><line x1="328.20000000000005" y1="392.43" x2="323.84" y2="392.43"/><line x1="37.6" y1="386.08" x2="41.96" y2="386.08"/><line x1="328.20000000000005" y1="386.08" x2="323.84" y2="386.08"/><line x1="37.6" y1="379.73" x2="41.96" y2="379.73"/><line x1="328.20000000000005" y1="379.73" x2="323.84" y2="379.73"/><line x1="37.6" y1="373.38" x2="46.32" y2="373.38"/><line x1="328.20000000000005" y1="373.38" x2="319.48" y2="373.38"/><line x1="37.6" y1="367.03" x2="41.96" y2="367.03"/><line x1="328.20000000000005" y1="367.03" x2="323.84" y2="367.03"/><line x1="37.6" y1="360.67" x2="41.96" y2="360.67"/><line x1="328.20000000000005" y1="360.67" x2="323.84" y2="360.67"/><line x1="37.6" y1="354.32" x2="41.96" y2="354.32"/><line x1="328.20000000000005" y1="354.32" x2="323.84" y2="354.32"/><line x1="37.6" y1="347.97" x2="41.96" y2="347.97"/><line x1="328.20000000000005" y1="347.97" x2="323.84" y2="347.97"/><line x1="37.6" y1="341.62" x2="46.32" y2="341.62"/><line x1="328.20000000000005" y1="341.62" x2="319.48" y2="341.62"/><line x1="37.6" y1="335.27" x2="41.96" y2="335.27"/><line x1="328.20000000000005" y1="335.27" x2="323.84" y2="335.27"/><line x1="37.6" y1="328.92" x2="41.96" y2="328.92"/><line x1="328.20000000000005" y1="328.92" x2="323.84" y2="328.92"/><line x1="37.6" y1="322.56" x2="41.96" y2="322.56"/><line x1="328.20000000000005" y1="322.56" x2="323.84" y2="322.56"/><line x1="37.6" y1="316.21" x2="41.96" y2="316.21"/><line x1="328.20000000000005" y1="316.21" x2="323.84" y2="316.21"/><line x1="37.6" y1="309.86" x2="46.32" y2="309.86"/><line x1="328.20000000000005" y1="309.86" x2="319.48" y2="309.86"/><line x1="37.6" y1="303.51" x2="41.96" y2="303.51"/><line x1="328.20000000000005" y1="303.51" x2="323.84" y2="303.51"/><line x1="37.6" y1="297.16" x2="41.96" y2="297.16"/><line x1="328.20000000000005" y1="297.16" x2="323.84" y2="297.16"/><line x1="37.6" y1="290.81" x2="41.96" y2="290.81"/><line x1="328.20000000000005" y1="290.81" x2="323.84" y2="290.81"/><line x1="37.6" y1="284.45" x2="41.96" y2="284.45"/><line x1="328.20000000000005" y1="284.45" x2="323.84" y2="284.45"/><line x1="37.6" y1="278.10" x2="46.32" y2="278.10"/><line x1="328.20000000000005" y1="278.10" x2="319.48" y2="278.10"/><line x1="37.6" y1="271.75" x2="41.96" y2="271.75"/><line x1="328.20000000000005" y1="271.75" x2="323.84" y2="271.75"/><line x1="37.6" y1="265.40" x2="41.96" y2="265.40"/><line x1="328.20000000000005" y1="265.40" x2="323.84" y2="265.40"/></g>
<rect x="37.6" y="265.4" width="290.6" height="196.90" fill="none" stroke="#333" stroke-width="1.1"/>
<g font-family="Liberation Sans" fill="#111"><text x="37.20" y="441.49" text-anchor="end" font-size="10.6">0.9</text><text x="37.20" y="409.74" text-anchor="end" font-size="10.6">0.95</text><text x="37.20" y="377.98" text-anchor="end" font-size="10.6">1</text><text x="37.20" y="346.22" text-anchor="end" font-size="10.6">1.05</text><text x="37.20" y="314.46" text-anchor="end" font-size="10.6">1.1</text><text x="37.20" y="282.70" text-anchor="end" font-size="10.6">1.15</text><text x="49.95" y="475.20" font-size="10">10<tspan dy="-4.4" font-size="7.3">-4</tspan></text><text x="121.19" y="475.20" font-size="10">10<tspan dy="-4.4" font-size="7.3">-3</tspan></text><text x="192.42" y="475.20" font-size="10">10<tspan dy="-4.4" font-size="7.3">-2</tspan></text><text x="263.66" y="475.20" font-size="10">10<tspan dy="-4.4" font-size="7.3">-1</tspan></text></g>
<text x="187.90" y="481.60" font-family="Liberation Sans" font-size="11.2" fill="#111">x</text>
<text x="182.90" y="9.9" transform="translate(0,247.90)" text-anchor="middle" font-family="Liberation Sans" font-size="11.6" fill="#1a1a1a">NNLO, Q = 100 GeV</text>
<text transform="translate(13.90,365.85) rotate(-90)" text-anchor="middle" font-family="Liberation Sans" font-size="11.6" fill="#111">d ( x, Q<tspan dy="-4.8" font-size="8.3">2</tspan><tspan dy="4.8">) / </tspan>d ( x, Q<tspan dy="-4.8" font-size="8.3">2</tspan><tspan dy="4.8">) [ref]</tspan></text>
<clipPath id="clip2"><rect x="37.6" y="265.4" width="291.8" height="196.90"/></clipPath>
<g clip-path="url(#clip2)">
<path d="M37.60,349.00 C45.83,350.50 70.43,355.45 87.00,358.00 C103.57,360.55 120.33,363.50 137.00,364.30 C153.67,365.10 171.50,363.23 187.00,362.80 C202.50,362.37 214.63,362.57 230.00,361.70 C245.37,360.83 268.27,358.50 279.20,357.60 C290.13,356.70 291.50,357.20 295.60,356.30 C299.70,355.40 301.53,354.72 303.80,352.20 C306.07,349.68 307.62,347.13 309.20,341.20 C310.78,335.27 312.02,325.25 313.30,316.60 C314.58,307.95 315.98,297.83 316.90,289.30 C317.82,280.77 318.48,269.38 318.80,265.40 L328.60,265.40 L328.60,462.30L319.00,462.30 C318.75,458.58 318.17,446.22 317.50,440.00 C316.83,433.78 316.25,429.67 315.00,425.00 C313.75,420.33 312.17,416.00 310.00,412.00 C307.83,408.00 305.00,404.17 302.00,401.00 C299.00,397.83 295.67,395.17 292.00,393.00 C288.33,390.83 284.50,389.17 280.00,388.00 C275.50,386.83 273.33,386.50 265.00,386.00 C256.67,385.50 243.00,385.57 230.00,385.00 C217.00,384.43 202.50,383.13 187.00,382.60 C171.50,382.07 153.67,381.57 137.00,381.80 C120.33,382.03 103.57,382.53 87.00,384.00 C70.43,385.47 45.83,389.50 37.60,390.60 Z" fill="#00ff00"/>
<clipPath id="gclip2"><path d="M37.60,349.00 C45.83,350.50 70.43,355.45 87.00,358.00 C103.57,360.55 120.33,363.50 137.00,364.30 C153.67,365.10 171.50,363.23 187.00,362.80 C202.50,362.37 214.63,362.57 230.00,361.70 C245.37,360.83 268.27,358.50 279.20,357.60 C290.13,356.70 291.50,357.20 295.60,356.30 C299.70,355.40 301.53,354.72 303.80,352.20 C306.07,349.68 307.62,347.13 309.20,341.20 C310.78,335.27 312.02,325.25 313.30,316.60 C314.58,307.95 315.98,297.83 316.90,289.30 C317.82,280.77 318.48,269.38 318.80,265.40 L328.60,265.40 L328.60,462.30L319.00,462.30 C318.75,458.58 318.17,446.22 317.50,440.00 C316.83,433.78 316.25,429.67 315.00,425.00 C313.75,420.33 312.17,416.00 310.00,412.00 C307.83,408.00 305.00,404.17 302.00,401.00 C299.00,397.83 295.67,395.17 292.00,393.00 C288.33,390.83 284.50,389.17 280.00,388.00 C275.50,386.83 273.33,386.50 265.00,386.00 C256.67,385.50 243.00,385.57 230.00,385.00 C217.00,384.43 202.50,383.13 187.00,382.60 C171.50,382.07 153.67,381.57 137.00,381.80 C120.33,382.03 103.57,382.53 87.00,384.00 C70.43,385.47 45.83,389.50 37.60,390.60 Z"/></clipPath>
<line x1="37.6" y1="373.38" x2="328.20000000000005" y2="373.38" stroke="#0b5a0b" stroke-width="1.2" stroke-dasharray="1.6,2.3" clip-path="url(#gclip2)"/>
<path d="M37.60,343.90 C45.83,344.87 70.43,348.12 87.00,349.70 C103.57,351.28 120.33,352.98 137.00,353.40 C153.67,353.82 175.33,352.08 187.00,352.20 C198.67,352.32 202.33,353.05 207.00,354.10 C211.67,355.15 212.00,356.68 215.00,358.50 C218.00,360.32 221.33,362.93 225.00,365.00 C228.67,367.07 231.17,369.73 237.00,370.90 C242.83,372.07 252.00,372.32 260.00,372.00 C268.00,371.68 278.33,369.00 285.00,369.00 C291.67,369.00 296.17,371.83 300.00,372.00 C303.83,372.17 306.00,373.33 308.00,370.00 C310.00,366.67 310.67,360.83 312.00,352.00 C313.33,343.17 315.00,327.33 316.00,317.00 C317.00,306.67 317.58,298.60 318.00,290.00 C318.42,281.40 318.42,269.50 318.50,265.40 L328.60,265.40 L328.60,462.30L291.50,462.30 C290.35,459.88 288.18,452.85 284.60,447.80 C281.02,442.75 274.93,437.47 270.00,432.00 C265.07,426.53 260.50,420.33 255.00,415.00 C249.50,409.67 243.67,404.17 237.00,400.00 C230.33,395.83 223.33,392.67 215.00,390.00 C206.67,387.33 200.00,385.25 187.00,384.00 C174.00,382.75 153.67,382.17 137.00,382.50 C120.33,382.83 103.57,384.75 87.00,386.00 C70.43,387.25 45.83,389.33 37.60,390.00 Z" fill="url(#hred)"/>
<path d="M37.60,343.90 C45.83,344.87 70.43,348.12 87.00,349.70 C103.57,351.28 120.33,352.98 137.00,353.40 C153.67,353.82 175.33,352.08 187.00,352.20 C198.67,352.32 202.33,353.05 207.00,354.10 C211.67,355.15 212.00,356.68 215.00,358.50 C218.00,360.32 221.33,362.93 225.00,365.00 C228.67,367.07 231.17,369.73 237.00,370.90 C242.83,372.07 252.00,372.32 260.00,372.00 C268.00,371.68 278.33,369.00 285.00,369.00 C291.67,369.00 296.17,371.83 300.00,372.00 C303.83,372.17 306.00,373.33 308.00,370.00 C310.00,366.67 310.67,360.83 312.00,352.00 C313.33,343.17 315.00,327.33 316.00,317.00 C317.00,306.67 317.58,298.60 318.00,290.00 C318.42,281.40 318.42,269.50 318.50,265.40" fill="none" stroke="#e01010" stroke-width="1.2"/>
<path d="M37.60,390.00 C45.83,389.33 70.43,387.25 87.00,386.00 C103.57,384.75 120.33,382.83 137.00,382.50 C153.67,382.17 174.00,382.75 187.00,384.00 C200.00,385.25 206.67,387.33 215.00,390.00 C223.33,392.67 230.33,395.83 237.00,400.00 C243.67,404.17 249.50,409.67 255.00,415.00 C260.50,420.33 265.07,426.53 270.00,432.00 C274.93,437.47 281.02,442.75 284.60,447.80 C288.18,452.85 290.35,459.88 291.50,462.30" fill="none" stroke="#e01010" stroke-width="1.2"/>
<path d="M37.60,346.10 C45.83,348.03 70.43,353.93 87.00,357.70 C103.57,361.47 120.33,366.50 137.00,368.70 C153.67,370.90 171.50,370.47 187.00,370.90 C202.50,371.33 220.10,371.45 230.00,371.30 C239.90,371.15 240.48,371.00 246.40,370.00 C252.32,369.00 259.13,365.77 265.50,365.30 C271.87,364.83 278.45,366.20 284.60,367.20 C290.75,368.20 298.52,370.85 302.40,371.30 C306.28,371.75 306.30,373.08 307.90,369.90 C309.50,366.72 310.63,361.08 312.00,352.20 C313.37,343.32 315.10,327.08 316.10,316.60 C317.10,306.12 317.50,297.83 318.00,289.30 C318.50,280.77 318.92,269.38 319.10,265.40 L328.60,265.40 L328.60,319.40L328.40,319.40 C327.93,318.93 326.75,313.87 325.60,316.60 C324.45,319.33 322.87,326.68 321.50,335.80 C320.13,344.92 318.77,358.10 317.40,371.30 C316.03,384.50 314.67,405.88 313.30,415.00 C311.93,424.12 310.78,424.87 309.20,426.00 C307.62,427.13 306.53,425.00 303.80,421.80 C301.07,418.60 297.13,411.58 292.80,406.80 C288.47,402.02 282.35,395.83 277.80,393.10 C273.25,390.37 270.28,389.93 265.50,390.40 C260.72,390.87 255.02,394.53 249.10,395.90 C243.18,397.27 240.35,398.63 230.00,398.60 C219.65,398.57 202.50,396.55 187.00,395.70 C171.50,394.85 153.67,393.98 137.00,393.50 C120.33,393.02 103.57,391.47 87.00,392.80 C70.43,394.13 45.83,400.05 37.60,401.50 Z" fill="url(#hblue)"/>
<path d="M255.00,396.00 C256.67,396.83 261.67,397.83 265.00,401.00 C268.33,404.17 271.67,408.50 275.00,415.00 C278.33,421.50 282.17,432.12 285.00,440.00 C287.83,447.88 290.83,458.58 292.00,462.30" fill="none" stroke="#d01818" stroke-width="0.9" stroke-opacity="0.75" stroke-dasharray="2.4,2"/>
<path d="M37.60,346.10 C45.83,348.03 70.43,353.93 87.00,357.70 C103.57,361.47 120.33,366.50 137.00,368.70 C153.67,370.90 171.50,370.47 187.00,370.90 C202.50,371.33 220.10,371.45 230.00,371.30 C239.90,371.15 240.48,371.00 246.40,370.00 C252.32,369.00 259.13,365.77 265.50,365.30 C271.87,364.83 278.45,366.20 284.60,367.20 C290.75,368.20 298.52,370.85 302.40,371.30 C306.28,371.75 306.30,373.08 307.90,369.90 C309.50,366.72 310.63,361.08 312.00,352.20 C313.37,343.32 315.10,327.08 316.10,316.60 C317.10,306.12 317.50,297.83 318.00,289.30 C318.50,280.77 318.92,269.38 319.10,265.40" fill="none" stroke="#1010e0" stroke-width="1.3"/>
<path d="M37.60,401.50 C45.83,400.05 70.43,394.13 87.00,392.80 C103.57,391.47 120.33,393.02 137.00,393.50 C153.67,393.98 171.50,394.85 187.00,395.70 C202.50,396.55 219.65,398.57 230.00,398.60 C240.35,398.63 243.18,397.27 249.10,395.90 C255.02,394.53 260.72,390.87 265.50,390.40 C270.28,389.93 273.25,390.37 277.80,393.10 C282.35,395.83 288.47,402.02 292.80,406.80 C297.13,411.58 301.07,418.60 303.80,421.80 C306.53,425.00 307.62,427.13 309.20,426.00 C310.78,424.87 311.93,424.12 313.30,415.00 C314.67,405.88 316.03,384.50 317.40,371.30 C318.77,358.10 320.13,344.92 321.50,335.80 C322.87,326.68 324.45,319.33 325.60,316.60 C326.75,313.87 327.93,318.93 328.40,319.40" fill="none" stroke="#1010e0" stroke-width="1.3"/>
</g>
<g stroke="#333" stroke-width="0.9" fill="none"><line x1="393.30" y1="462.3" x2="393.30" y2="459.35"/><line x1="393.30" y1="265.4" x2="393.30" y2="268.35"/><line x1="398.94" y1="462.3" x2="398.94" y2="459.35"/><line x1="398.94" y1="265.4" x2="398.94" y2="268.35"/><line x1="403.71" y1="462.3" x2="403.71" y2="459.35"/><line x1="403.71" y1="265.4" x2="403.71" y2="268.35"/><line x1="407.84" y1="462.3" x2="407.84" y2="459.35"/><line x1="407.84" y1="265.4" x2="407.84" y2="268.35"/><line x1="411.49" y1="462.3" x2="411.49" y2="459.35"/><line x1="411.49" y1="265.4" x2="411.49" y2="268.35"/><line x1="414.75" y1="462.3" x2="414.75" y2="456.39"/><line x1="414.75" y1="265.4" x2="414.75" y2="271.31"/><line x1="436.19" y1="462.3" x2="436.19" y2="459.35"/><line x1="436.19" y1="265.4" x2="436.19" y2="268.35"/><line x1="448.74" y1="462.3" x2="448.74" y2="459.35"/><line x1="448.74" y1="265.4" x2="448.74" y2="268.35"/><line x1="457.64" y1="462.3" x2="457.64" y2="459.35"/><line x1="457.64" y1="265.4" x2="457.64" y2="268.35"/><line x1="464.54" y1="462.3" x2="464.54" y2="459.35"/><line x1="464.54" y1="265.4" x2="464.54" y2="268.35"/><line x1="470.18" y1="462.3" x2="470.18" y2="459.35"/><line x1="470.18" y1="265.4" x2="470.18" y2="268.35"/><line x1="474.95" y1="462.3" x2="474.95" y2="459.35"/><line x1="474.95" y1="265.4" x2="474.95" y2="268.35"/><line x1="479.08" y1="462.3" x2="479.08" y2="459.35"/><line x1="479.08" y1="265.4" x2="479.08" y2="268.35"/><line x1="482.73" y1="462.3" x2="482.73" y2="459.35"/><line x1="482.73" y1="265.4" x2="482.73" y2="268.35"/><line x1="485.99" y1="462.3" x2="485.99" y2="456.39"/><line x1="485.99" y1="265.4" x2="485.99" y2="271.31"/><line x1="507.43" y1="462.3" x2="507.43" y2="459.35"/><line x1="507.43" y1="265.4" x2="507.43" y2="268.35"/><line x1="519.98" y1="462.3" x2="519.98" y2="459.35"/><line x1="519.98" y1="265.4" x2="519.98" y2="268.35"/><line x1="528.88" y1="462.3" x2="528.88" y2="459.35"/><line x1="528.88" y1="265.4" x2="528.88" y2="268.35"/><line x1="535.78" y1="462.3" x2="535.78" y2="459.35"/><line x1="535.78" y1="265.4" x2="535.78" y2="268.35"/><line x1="541.42" y1="462.3" x2="541.42" y2="459.35"/><line x1="541.42" y1="265.4" x2="541.42" y2="268.35"/><line x1="546.19" y1="462.3" x2="546.19" y2="459.35"/><line x1="546.19" y1="265.4" x2="546.19" y2="268.35"/><line x1="550.32" y1="462.3" x2="550.32" y2="459.35"/><line x1="550.32" y1="265.4" x2="550.32" y2="268.35"/><line x1="553.97" y1="462.3" x2="553.97" y2="459.35"/><line x1="553.97" y1="265.4" x2="553.97" y2="268.35"/><line x1="557.22" y1="462.3" x2="557.22" y2="456.39"/><line x1="557.22" y1="265.4" x2="557.22" y2="271.31"/><line x1="578.67" y1="462.3" x2="578.67" y2="459.35"/><line x1="578.67" y1="265.4" x2="578.67" y2="268.35"/><line x1="591.21" y1="462.3" x2="591.21" y2="459.35"/><line x1="591.21" y1="265.4" x2="591.21" y2="268.35"/><line x1="600.12" y1="462.3" x2="600.12" y2="459.35"/><line x1="600.12" y1="265.4" x2="600.12" y2="268.35"/><line x1="607.02" y1="462.3" x2="607.02" y2="459.35"/><line x1="607.02" y1="265.4" x2="607.02" y2="268.35"/><line x1="612.66" y1="462.3" x2="612.66" y2="459.35"/><line x1="612.66" y1="265.4" x2="612.66" y2="268.35"/><line x1="617.43" y1="462.3" x2="617.43" y2="459.35"/><line x1="617.43" y1="265.4" x2="617.43" y2="268.35"/><line x1="621.56" y1="462.3" x2="621.56" y2="459.35"/><line x1="621.56" y1="265.4" x2="621.56" y2="268.35"/><line x1="625.20" y1="462.3" x2="625.20" y2="459.35"/><line x1="625.20" y1="265.4" x2="625.20" y2="268.35"/><line x1="628.46" y1="462.3" x2="628.46" y2="456.39"/><line x1="628.46" y1="265.4" x2="628.46" y2="271.31"/><line x1="649.91" y1="462.3" x2="649.91" y2="459.35"/><line x1="649.91" y1="265.4" x2="649.91" y2="268.35"/><line x1="662.45" y1="462.3" x2="662.45" y2="459.35"/><line x1="662.45" y1="265.4" x2="662.45" y2="268.35"/><line x1="671.36" y1="462.3" x2="671.36" y2="459.35"/><line x1="671.36" y1="265.4" x2="671.36" y2="268.35"/><line x1="678.26" y1="462.3" x2="678.26" y2="459.35"/><line x1="678.26" y1="265.4" x2="678.26" y2="268.35"/><line x1="683.90" y1="462.3" x2="683.90" y2="459.35"/><line x1="683.90" y1="265.4" x2="683.90" y2="268.35"/><line x1="393.3" y1="462.30" x2="397.66" y2="462.30"/><line x1="683.9000000000001" y1="462.30" x2="679.54" y2="462.30"/><line x1="393.3" y1="455.95" x2="397.66" y2="455.95"/><line x1="683.9000000000001" y1="455.95" x2="679.54" y2="455.95"/><line x1="393.3" y1="449.60" x2="397.66" y2="449.60"/><line x1="683.9000000000001" y1="449.60" x2="679.54" y2="449.60"/><line x1="393.3" y1="443.25" x2="397.66" y2="443.25"/><line x1="683.9000000000001" y1="443.25" x2="679.54" y2="443.25"/><line x1="393.3" y1="436.89" x2="402.02" y2="436.89"/><line x1="683.9000000000001" y1="436.89" x2="675.18" y2="436.89"/><line x1="393.3" y1="430.54" x2="397.66" y2="430.54"/><line x1="683.9000000000001" y1="430.54" x2="679.54" y2="430.54"/><line x1="393.3" y1="424.19" x2="397.66" y2="424.19"/><line x1="683.9000000000001" y1="424.19" x2="679.54" y2="424.19"/><line x1="393.3" y1="417.84" x2="397.66" y2="417.84"/><line x1="683.9000000000001" y1="417.84" x2="679.54" y2="417.84"/><line x1="393.3" y1="411.49" x2="397.66" y2="411.49"/><line x1="683.9000000000001" y1="411.49" x2="679.54" y2="411.49"/><line x1="393.3" y1="405.14" x2="402.02" y2="405.14"/><line x1="683.9000000000001" y1="405.14" x2="675.18" y2="405.14"/><line x1="393.3" y1="398.78" x2="397.66" y2="398.78"/><line x1="683.9000000000001" y1="398.78" x2="679.54" y2="398.78"/><line x1="393.3" y1="392.43" x2="397.66" y2="392.43"/><line x1="683.9000000000001" y1="392.43" x2="679.54" y2="392.43"/><line x1="393.3" y1="386.08" x2="397.66" y2="386.08"/><line x1="683.9000000000001" y1="386.08" x2="679.54" y2="386.08"/><line x1="393.3" y1="379.73" x2="397.66" y2="379.73"/><line x1="683.9000000000001" y1="379.73" x2="679.54" y2="379.73"/><line x1="393.3" y1="373.38" x2="402.02" y2="373.38"/><line x1="683.9000000000001" y1="373.38" x2="675.18" y2="373.38"/><line x1="393.3" y1="367.03" x2="397.66" y2="367.03"/><line x1="683.9000000000001" y1="367.03" x2="679.54" y2="367.03"/><line x1="393.3" y1="360.67" x2="397.66" y2="360.67"/><line x1="683.9000000000001" y1="360.67" x2="679.54" y2="360.67"/><line x1="393.3" y1="354.32" x2="397.66" y2="354.32"/><line x1="683.9000000000001" y1="354.32" x2="679.54" y2="354.32"/><line x1="393.3" y1="347.97" x2="397.66" y2="347.97"/><line x1="683.9000000000001" y1="347.97" x2="679.54" y2="347.97"/><line x1="393.3" y1="341.62" x2="402.02" y2="341.62"/><line x1="683.9000000000001" y1="341.62" x2="675.18" y2="341.62"/><line x1="393.3" y1="335.27" x2="397.66" y2="335.27"/><line x1="683.9000000000001" y1="335.27" x2="679.54" y2="335.27"/><line x1="393.3" y1="328.92" x2="397.66" y2="328.92"/><line x1="683.9000000000001" y1="328.92" x2="679.54" y2="328.92"/><line x1="393.3" y1="322.56" x2="397.66" y2="322.56"/><line x1="683.9000000000001" y1="322.56" x2="679.54" y2="322.56"/><line x1="393.3" y1="316.21" x2="397.66" y2="316.21"/><line x1="683.9000000000001" y1="316.21" x2="679.54" y2="316.21"/><line x1="393.3" y1="309.86" x2="402.02" y2="309.86"/><line x1="683.9000000000001" y1="309.86" x2="675.18" y2="309.86"/><line x1="393.3" y1="303.51" x2="397.66" y2="303.51"/><line x1="683.9000000000001" y1="303.51" x2="679.54" y2="303.51"/><line x1="393.3" y1="297.16" x2="397.66" y2="297.16"/><line x1="683.9000000000001" y1="297.16" x2="679.54" y2="297.16"/><line x1="393.3" y1="290.81" x2="397.66" y2="290.81"/><line x1="683.9000000000001" y1="290.81" x2="679.54" y2="290.81"/><line x1="393.3" y1="284.45" x2="397.66" y2="284.45"/><line x1="683.9000000000001" y1="284.45" x2="679.54" y2="284.45"/><line x1="393.3" y1="278.10" x2="402.02" y2="278.10"/><line x1="683.9000000000001" y1="278.10" x2="675.18" y2="278.10"/><line x1="393.3" y1="271.75" x2="397.66" y2="271.75"/><line x1="683.9000000000001" y1="271.75" x2="679.54" y2="271.75"/><line x1="393.3" y1="265.40" x2="397.66" y2="265.40"/><line x1="683.9000000000001" y1="265.40" x2="679.54" y2="265.40"/></g>
<rect x="393.3" y="265.4" width="290.6" height="196.90" fill="none" stroke="#333" stroke-width="1.1"/>
<g font-family="Liberation Sans" fill="#111"><text x="392.90" y="441.49" text-anchor="end" font-size="10.6">0.9</text><text x="392.90" y="409.74" text-anchor="end" font-size="10.6">0.95</text><text x="392.90" y="377.98" text-anchor="end" font-size="10.6">1</text><text x="392.90" y="346.22" text-anchor="end" font-size="10.6">1.05</text><text x="392.90" y="314.46" text-anchor="end" font-size="10.6">1.1</text><text x="392.90" y="282.70" text-anchor="end" font-size="10.6">1.15</text><text x="405.65" y="475.20" font-size="10">10<tspan dy="-4.4" font-size="7.3">-4</tspan></text><text x="476.89" y="475.20" font-size="10">10<tspan dy="-4.4" font-size="7.3">-3</tspan></text><text x="548.12" y="475.20" font-size="10">10<tspan dy="-4.4" font-size="7.3">-2</tspan></text><text x="619.36" y="475.20" font-size="10">10<tspan dy="-4.4" font-size="7.3">-1</tspan></text></g>
<text x="543.60" y="481.60" font-family="Liberation Sans" font-size="11.2" fill="#111">x</text>
<text x="538.60" y="9.9" transform="translate(0,247.90)" text-anchor="middle" font-family="Liberation Sans" font-size="11.6" fill="#1a1a1a">NNLO, Q = 100 GeV</text>
<text transform="translate(369.60,365.85) rotate(-90)" text-anchor="middle" font-family="Liberation Sans" font-size="11.6" fill="#111"><tspan text-decoration="overline">d</tspan> ( x, Q<tspan dy="-4.8" font-size="8.3">2</tspan><tspan dy="4.8">) / </tspan><tspan text-decoration="overline">d</tspan> ( x, Q<tspan dy="-4.8" font-size="8.3">2</tspan><tspan dy="4.8">) [ref]</tspan></text>
<clipPath id="clip3"><rect x="393.3" y="265.4" width="291.8" height="196.90"/></clipPath>
<g clip-path="url(#clip3)">
<path d="M393.30,348.00 C401.58,349.00 426.38,351.28 443.00,354.00 C459.62,356.72 476.33,363.07 493.00,364.30 C509.67,365.53 530.50,362.50 543.00,361.40 C555.50,360.30 559.67,359.03 568.00,357.70 C576.33,356.37 585.17,354.87 593.00,353.40 C600.83,351.93 608.00,349.93 615.00,348.90 C622.00,347.87 630.83,347.12 635.00,347.20 C639.17,347.28 638.33,350.93 640.00,349.40 C641.67,347.87 643.33,343.23 645.00,338.00 C646.67,332.77 648.33,325.17 650.00,318.00 C651.67,310.83 653.67,303.77 655.00,295.00 C656.33,286.23 657.50,270.33 658.00,265.40 L684.00,265.40 L684.00,462.30L654.60,462.30 C653.83,459.42 651.43,451.22 650.00,445.00 C648.57,438.78 647.17,430.83 646.00,425.00 C644.83,419.17 644.00,413.67 643.00,410.00 C642.00,406.33 643.83,404.87 640.00,403.00 C636.17,401.13 626.67,399.97 620.00,398.80 C613.33,397.63 605.83,397.13 600.00,396.00 C594.17,394.87 594.50,394.17 585.00,392.00 C575.50,389.83 558.33,384.70 543.00,383.00 C527.67,381.30 509.67,381.75 493.00,381.80 C476.33,381.85 459.62,381.72 443.00,383.30 C426.38,384.88 401.58,389.97 393.30,391.30 Z" fill="#00ff00"/>
<clipPath id="gclip3"><path d="M393.30,348.00 C401.58,349.00 426.38,351.28 443.00,354.00 C459.62,356.72 476.33,363.07 493.00,364.30 C509.67,365.53 530.50,362.50 543.00,361.40 C555.50,360.30 559.67,359.03 568.00,357.70 C576.33,356.37 585.17,354.87 593.00,353.40 C600.83,351.93 608.00,349.93 615.00,348.90 C622.00,347.87 630.83,347.12 635.00,347.20 C639.17,347.28 638.33,350.93 640.00,349.40 C641.67,347.87 643.33,343.23 645.00,338.00 C646.67,332.77 648.33,325.17 650.00,318.00 C651.67,310.83 653.67,303.77 655.00,295.00 C656.33,286.23 657.50,270.33 658.00,265.40 L684.00,265.40 L684.00,462.30L654.60,462.30 C653.83,459.42 651.43,451.22 650.00,445.00 C648.57,438.78 647.17,430.83 646.00,425.00 C644.83,419.17 644.00,413.67 643.00,410.00 C642.00,406.33 643.83,404.87 640.00,403.00 C636.17,401.13 626.67,399.97 620.00,398.80 C613.33,397.63 605.83,397.13 600.00,396.00 C594.17,394.87 594.50,394.17 585.00,392.00 C575.50,389.83 558.33,384.70 543.00,383.00 C527.67,381.30 509.67,381.75 493.00,381.80 C476.33,381.85 459.62,381.72 443.00,383.30 C426.38,384.88 401.58,389.97 393.30,391.30 Z"/></clipPath>
<line x1="393.3" y1="373.38" x2="683.9000000000001" y2="373.38" stroke="#0b5a0b" stroke-width="1.2" stroke-dasharray="1.6,2.3" clip-path="url(#gclip3)"/>
<path d="M393.30,344.60 C401.58,345.70 426.38,349.38 443.00,351.20 C459.62,353.02 476.33,355.18 493.00,355.50 C509.67,355.82 533.00,353.45 543.00,353.10 C553.00,352.75 549.67,352.87 553.00,353.40 C556.33,353.93 559.67,355.22 563.00,356.30 C566.33,357.38 568.00,358.45 573.00,359.90 C578.00,361.35 586.83,364.02 593.00,365.00 C599.17,365.98 603.83,365.43 610.00,365.80 C616.17,366.17 625.33,367.83 630.00,367.20 C634.67,366.57 635.83,364.87 638.00,362.00 C640.17,359.13 641.00,355.00 643.00,350.00 C645.00,345.00 647.67,336.33 650.00,332.00 C652.33,327.67 654.43,326.00 657.00,324.00 C659.57,322.00 664.00,329.77 665.40,320.00 C666.80,310.23 665.40,274.50 665.40,265.40 L684.00,265.40 L684.00,462.30L650.00,462.30 C649.67,460.37 648.83,454.68 648.00,450.70 C647.17,446.72 646.17,442.18 645.00,438.40 C643.83,434.62 642.67,430.57 641.00,428.00 C639.33,425.43 637.67,424.17 635.00,423.00 C632.33,421.83 629.17,421.42 625.00,421.00 C620.83,420.58 616.67,423.33 610.00,420.50 C603.33,417.67 596.17,409.08 585.00,404.00 C573.83,398.92 558.33,393.33 543.00,390.00 C527.67,386.67 509.67,384.83 493.00,384.00 C476.33,383.17 459.62,383.67 443.00,385.00 C426.38,386.33 401.58,390.83 393.30,392.00 Z" fill="url(#hred)"/>
<path d="M393.30,344.60 C401.58,345.70 426.38,349.38 443.00,351.20 C459.62,353.02 476.33,355.18 493.00,355.50 C509.67,355.82 533.00,353.45 543.00,353.10 C553.00,352.75 549.67,352.87 553.00,353.40 C556.33,353.93 559.67,355.22 563.00,356.30 C566.33,357.38 568.00,358.45 573.00,359.90 C578.00,361.35 586.83,364.02 593.00,365.00 C599.17,365.98 603.83,365.43 610.00,365.80 C616.17,366.17 625.33,367.83 630.00,367.20 C634.67,366.57 635.83,364.87 638.00,362.00 C640.17,359.13 641.00,355.00 643.00,350.00 C645.00,345.00 647.67,336.33 650.00,332.00 C652.33,327.67 654.43,326.00 657.00,324.00 C659.57,322.00 664.00,329.77 665.40,320.00 C666.80,310.23 665.40,274.50 665.40,265.40" fill="none" stroke="#e01010" stroke-width="1.2"/>
<path d="M393.30,392.00 C401.58,390.83 426.38,386.33 443.00,385.00 C459.62,383.67 476.33,383.17 493.00,384.00 C509.67,384.83 527.67,386.67 543.00,390.00 C558.33,393.33 573.83,398.92 585.00,404.00 C596.17,409.08 603.33,417.67 610.00,420.50 C616.67,423.33 620.83,420.58 625.00,421.00 C629.17,421.42 632.33,421.83 635.00,423.00 C637.67,424.17 639.33,425.43 641.00,428.00 C642.67,430.57 643.83,434.62 645.00,438.40 C646.17,442.18 647.17,446.72 648.00,450.70 C648.83,454.68 649.67,460.37 650.00,462.30" fill="none" stroke="#e01010" stroke-width="1.2"/>
<path d="M393.30,346.40 C401.58,348.05 426.38,353.07 443.00,356.30 C459.62,359.53 476.33,363.25 493.00,365.80 C509.67,368.35 526.33,369.82 543.00,371.60 C559.67,373.38 581.83,375.52 593.00,376.50 C604.17,377.48 605.50,377.42 610.00,377.50 C614.50,377.58 616.67,378.22 620.00,377.00 C623.33,375.78 627.67,372.70 630.00,370.20 C632.33,367.70 632.57,365.93 634.00,362.00 C635.43,358.07 636.60,354.17 638.60,346.60 C640.60,339.03 643.77,326.15 646.00,316.60 C648.23,307.05 650.58,297.83 652.00,289.30 C653.42,280.77 654.08,269.38 654.50,265.40 L665.40,265.40 L665.40,462.30L658.70,462.30 C658.58,459.23 658.28,450.38 658.00,443.90 C657.72,437.42 657.42,429.55 657.00,423.40 C656.58,417.25 656.17,410.87 655.50,407.00 C654.83,403.13 653.83,401.67 653.00,400.20 C652.17,398.73 651.83,397.73 650.50,398.20 C649.17,398.67 647.58,400.40 645.00,403.00 C642.42,405.60 638.33,411.08 635.00,413.80 C631.67,416.52 628.33,418.27 625.00,419.30 C621.67,420.33 619.17,420.45 615.00,420.00 C610.83,419.55 605.00,418.35 600.00,416.60 C595.00,414.85 594.50,412.50 585.00,409.50 C575.50,406.50 558.33,400.90 543.00,398.60 C527.67,396.30 509.67,396.67 493.00,395.70 C476.33,394.73 459.62,391.83 443.00,392.80 C426.38,393.77 401.58,400.05 393.30,401.50 Z" fill="url(#hblue)"/>
<path d="M393.30,346.40 C401.58,348.05 426.38,353.07 443.00,356.30 C459.62,359.53 476.33,363.25 493.00,365.80 C509.67,368.35 526.33,369.82 543.00,371.60 C559.67,373.38 581.83,375.52 593.00,376.50 C604.17,377.48 605.50,377.42 610.00,377.50 C614.50,377.58 616.67,378.22 620.00,377.00 C623.33,375.78 627.67,372.70 630.00,370.20 C632.33,367.70 632.57,365.93 634.00,362.00 C635.43,358.07 636.60,354.17 638.60,346.60 C640.60,339.03 643.77,326.15 646.00,316.60 C648.23,307.05 650.58,297.83 652.00,289.30 C653.42,280.77 654.08,269.38 654.50,265.40" fill="none" stroke="#1010e0" stroke-width="1.3"/>
<path d="M393.30,401.50 C401.58,400.05 426.38,393.77 443.00,392.80 C459.62,391.83 476.33,394.73 493.00,395.70 C509.67,396.67 527.67,396.30 543.00,398.60 C558.33,400.90 575.50,406.50 585.00,409.50 C594.50,412.50 595.00,414.85 600.00,416.60 C605.00,418.35 610.83,419.55 615.00,420.00 C619.17,420.45 621.67,420.33 625.00,419.30 C628.33,418.27 631.67,416.52 635.00,413.80 C638.33,411.08 642.42,405.60 645.00,403.00 C647.58,400.40 649.17,398.67 650.50,398.20 C651.83,397.73 652.17,398.73 653.00,400.20 C653.83,401.67 654.83,403.13 655.50,407.00 C656.17,410.87 656.58,417.25 657.00,423.40 C657.42,429.55 657.72,437.42 658.00,443.90 C658.28,450.38 658.58,459.23 658.70,462.30" fill="none" stroke="#1010e0" stroke-width="1.3"/>
</g>
<g stroke="#333" stroke-width="0.9" fill="none"><line x1="37.60" y1="709.8" x2="37.60" y2="706.85"/><line x1="37.60" y1="513.0" x2="37.60" y2="515.95"/><line x1="43.24" y1="709.8" x2="43.24" y2="706.85"/><line x1="43.24" y1="513.0" x2="43.24" y2="515.95"/><line x1="48.01" y1="709.8" x2="48.01" y2="706.85"/><line x1="48.01" y1="513.0" x2="48.01" y2="515.95"/><line x1="52.14" y1="709.8" x2="52.14" y2="706.85"/><line x1="52.14" y1="513.0" x2="52.14" y2="515.95"/><line x1="55.79" y1="709.8" x2="55.79" y2="706.85"/><line x1="55.79" y1="513.0" x2="55.79" y2="515.95"/><line x1="59.05" y1="709.8" x2="59.05" y2="703.90"/><line x1="59.05" y1="513.0" x2="59.05" y2="518.90"/><line x1="80.49" y1="709.8" x2="80.49" y2="706.85"/><line x1="80.49" y1="513.0" x2="80.49" y2="515.95"/><line x1="93.04" y1="709.8" x2="93.04" y2="706.85"/><line x1="93.04" y1="513.0" x2="93.04" y2="515.95"/><line x1="101.94" y1="709.8" x2="101.94" y2="706.85"/><line x1="101.94" y1="513.0" x2="101.94" y2="515.95"/><line x1="108.84" y1="709.8" x2="108.84" y2="706.85"/><line x1="108.84" y1="513.0" x2="108.84" y2="515.95"/><line x1="114.48" y1="709.8" x2="114.48" y2="706.85"/><line x1="114.48" y1="513.0" x2="114.48" y2="515.95"/><line x1="119.25" y1="709.8" x2="119.25" y2="706.85"/><line x1="119.25" y1="513.0" x2="119.25" y2="515.95"/><line x1="123.38" y1="709.8" x2="123.38" y2="706.85"/><line x1="123.38" y1="513.0" x2="123.38" y2="515.95"/><line x1="127.03" y1="709.8" x2="127.03" y2="706.85"/><line x1="127.03" y1="513.0" x2="127.03" y2="515.95"/><line x1="130.29" y1="709.8" x2="130.29" y2="703.90"/><line x1="130.29" y1="513.0" x2="130.29" y2="518.90"/><line x1="151.73" y1="709.8" x2="151.73" y2="706.85"/><line x1="151.73" y1="513.0" x2="151.73" y2="515.95"/><line x1="164.28" y1="709.8" x2="164.28" y2="706.85"/><line x1="164.28" y1="513.0" x2="164.28" y2="515.95"/><line x1="173.18" y1="709.8" x2="173.18" y2="706.85"/><line x1="173.18" y1="513.0" x2="173.18" y2="515.95"/><line x1="180.08" y1="709.8" x2="180.08" y2="706.85"/><line x1="180.08" y1="513.0" x2="180.08" y2="515.95"/><line x1="185.72" y1="709.8" x2="185.72" y2="706.85"/><line x1="185.72" y1="513.0" x2="185.72" y2="515.95"/><line x1="190.49" y1="709.8" x2="190.49" y2="706.85"/><line x1="190.49" y1="513.0" x2="190.49" y2="515.95"/><line x1="194.62" y1="709.8" x2="194.62" y2="706.85"/><line x1="194.62" y1="513.0" x2="194.62" y2="515.95"/><line x1="198.27" y1="709.8" x2="198.27" y2="706.85"/><line x1="198.27" y1="513.0" x2="198.27" y2="515.95"/><line x1="201.52" y1="709.8" x2="201.52" y2="703.90"/><line x1="201.52" y1="513.0" x2="201.52" y2="518.90"/><line x1="222.97" y1="709.8" x2="222.97" y2="706.85"/><line x1="222.97" y1="513.0" x2="222.97" y2="515.95"/><line x1="235.51" y1="709.8" x2="235.51" y2="706.85"/><line x1="235.51" y1="513.0" x2="235.51" y2="515.95"/><line x1="244.42" y1="709.8" x2="244.42" y2="706.85"/><line x1="244.42" y1="513.0" x2="244.42" y2="515.95"/><line x1="251.32" y1="709.8" x2="251.32" y2="706.85"/><line x1="251.32" y1="513.0" x2="251.32" y2="515.95"/><line x1="256.96" y1="709.8" x2="256.96" y2="706.85"/><line x1="256.96" y1="513.0" x2="256.96" y2="515.95"/><line x1="261.73" y1="709.8" x2="261.73" y2="706.85"/><line x1="261.73" y1="513.0" x2="261.73" y2="515.95"/><line x1="265.86" y1="709.8" x2="265.86" y2="706.85"/><line x1="265.86" y1="513.0" x2="265.86" y2="515.95"/><line x1="269.50" y1="709.8" x2="269.50" y2="706.85"/><line x1="269.50" y1="513.0" x2="269.50" y2="515.95"/><line x1="272.76" y1="709.8" x2="272.76" y2="703.90"/><line x1="272.76" y1="513.0" x2="272.76" y2="518.90"/><line x1="294.21" y1="709.8" x2="294.21" y2="706.85"/><line x1="294.21" y1="513.0" x2="294.21" y2="515.95"/><line x1="306.75" y1="709.8" x2="306.75" y2="706.85"/><line x1="306.75" y1="513.0" x2="306.75" y2="515.95"/><line x1="315.66" y1="709.8" x2="315.66" y2="706.85"/><line x1="315.66" y1="513.0" x2="315.66" y2="515.95"/><line x1="322.56" y1="709.8" x2="322.56" y2="706.85"/><line x1="322.56" y1="513.0" x2="322.56" y2="515.95"/><line x1="328.20" y1="709.8" x2="328.20" y2="706.85"/><line x1="328.20" y1="513.0" x2="328.20" y2="515.95"/><line x1="37.6" y1="709.80" x2="46.32" y2="709.80"/><line x1="328.20000000000005" y1="709.80" x2="319.48" y2="709.80"/><line x1="37.6" y1="705.86" x2="41.96" y2="705.86"/><line x1="328.20000000000005" y1="705.86" x2="323.84" y2="705.86"/><line x1="37.6" y1="701.93" x2="41.96" y2="701.93"/><line x1="328.20000000000005" y1="701.93" x2="323.84" y2="701.93"/><line x1="37.6" y1="697.99" x2="41.96" y2="697.99"/><line x1="328.20000000000005" y1="697.99" x2="323.84" y2="697.99"/><line x1="37.6" y1="694.06" x2="41.96" y2="694.06"/><line x1="328.20000000000005" y1="694.06" x2="323.84" y2="694.06"/><line x1="37.6" y1="690.12" x2="46.32" y2="690.12"/><line x1="328.20000000000005" y1="690.12" x2="319.48" y2="690.12"/><line x1="37.6" y1="686.18" x2="41.96" y2="686.18"/><line x1="328.20000000000005" y1="686.18" x2="323.84" y2="686.18"/><line x1="37.6" y1="682.25" x2="41.96" y2="682.25"/><line x1="328.20000000000005" y1="682.25" x2="323.84" y2="682.25"/><line x1="37.6" y1="678.31" x2="41.96" y2="678.31"/><line x1="328.20000000000005" y1="678.31" x2="323.84" y2="678.31"/><line x1="37.6" y1="674.38" x2="41.96" y2="674.38"/><line x1="328.20000000000005" y1="674.38" x2="323.84" y2="674.38"/><line x1="37.6" y1="670.44" x2="46.32" y2="670.44"/><line x1="328.20000000000005" y1="670.44" x2="319.48" y2="670.44"/><line x1="37.6" y1="666.50" x2="41.96" y2="666.50"/><line x1="328.20000000000005" y1="666.50" x2="323.84" y2="666.50"/><line x1="37.6" y1="662.57" x2="41.96" y2="662.57"/><line x1="328.20000000000005" y1="662.57" x2="323.84" y2="662.57"/><line x1="37.6" y1="658.63" x2="41.96" y2="658.63"/><line x1="328.20000000000005" y1="658.63" x2="323.84" y2="658.63"/><line x1="37.6" y1="654.70" x2="41.96" y2="654.70"/><line x1="328.20000000000005" y1="654.70" x2="323.84" y2="654.70"/><line x1="37.6" y1="650.76" x2="46.32" y2="650.76"/><line x1="328.20000000000005" y1="650.76" x2="319.48" y2="650.76"/><line x1="37.6" y1="646.82" x2="41.96" y2="646.82"/><line x1="328.20000000000005" y1="646.82" x2="323.84" y2="646.82"/><line x1="37.6" y1="642.89" x2="41.96" y2="642.89"/><line x1="328.20000000000005" y1="642.89" x2="323.84" y2="642.89"/><line x1="37.6" y1="638.95" x2="41.96" y2="638.95"/><line x1="328.20000000000005" y1="638.95" x2="323.84" y2="638.95"/><line x1="37.6" y1="635.02" x2="41.96" y2="635.02"/><line x1="328.20000000000005" y1="635.02" x2="323.84" y2="635.02"/><line x1="37.6" y1="631.08" x2="46.32" y2="631.08"/><line x1="328.20000000000005" y1="631.08" x2="319.48" y2="631.08"/><line x1="37.6" y1="627.14" x2="41.96" y2="627.14"/><line x1="328.20000000000005" y1="627.14" x2="323.84" y2="627.14"/><line x1="37.6" y1="623.21" x2="41.96" y2="623.21"/><line x1="328.20000000000005" y1="623.21" x2="323.84" y2="623.21"/><line x1="37.6" y1="619.27" x2="41.96" y2="619.27"/><line x1="328.20000000000005" y1="619.27" x2="323.84" y2="619.27"/><line x1="37.6" y1="615.34" x2="41.96" y2="615.34"/><line x1="328.20000000000005" y1="615.34" x2="323.84" y2="615.34"/><line x1="37.6" y1="611.40" x2="46.32" y2="611.40"/><line x1="328.20000000000005" y1="611.40" x2="319.48" y2="611.40"/><line x1="37.6" y1="607.46" x2="41.96" y2="607.46"/><line x1="328.20000000000005" y1="607.46" x2="323.84" y2="607.46"/><line x1="37.6" y1="603.53" x2="41.96" y2="603.53"/><line x1="328.20000000000005" y1="603.53" x2="323.84" y2="603.53"/><line x1="37.6" y1="599.59" x2="41.96" y2="599.59"/><line x1="328.20000000000005" y1="599.59" x2="323.84" y2="599.59"/><line x1="37.6" y1="595.66" x2="41.96" y2="595.66"/><line x1="328.20000000000005" y1="595.66" x2="323.84" y2="595.66"/><line x1="37.6" y1="591.72" x2="46.32" y2="591.72"/><line x1="328.20000000000005" y1="591.72" x2="319.48" y2="591.72"/><line x1="37.6" y1="587.78" x2="41.96" y2="587.78"/><line x1="328.20000000000005" y1="587.78" x2="323.84" y2="587.78"/><line x1="37.6" y1="583.85" x2="41.96" y2="583.85"/><line x1="328.20000000000005" y1="583.85" x2="323.84" y2="583.85"/><line x1="37.6" y1="579.91" x2="41.96" y2="579.91"/><line x1="328.20000000000005" y1="579.91" x2="323.84" y2="579.91"/><line x1="37.6" y1="575.98" x2="41.96" y2="575.98"/><line x1="328.20000000000005" y1="575.98" x2="323.84" y2="575.98"/><line x1="37.6" y1="572.04" x2="46.32" y2="572.04"/><line x1="328.20000000000005" y1="572.04" x2="319.48" y2="572.04"/><line x1="37.6" y1="568.10" x2="41.96" y2="568.10"/><line x1="328.20000000000005" y1="568.10" x2="323.84" y2="568.10"/><line x1="37.6" y1="564.17" x2="41.96" y2="564.17"/><line x1="328.20000000000005" y1="564.17" x2="323.84" y2="564.17"/><line x1="37.6" y1="560.23" x2="41.96" y2="560.23"/><line x1="328.20000000000005" y1="560.23" x2="323.84" y2="560.23"/><line x1="37.6" y1="556.30" x2="41.96" y2="556.30"/><line x1="328.20000000000005" y1="556.30" x2="323.84" y2="556.30"/><line x1="37.6" y1="552.36" x2="46.32" y2="552.36"/><line x1="328.20000000000005" y1="552.36" x2="319.48" y2="552.36"/><line x1="37.6" y1="548.42" x2="41.96" y2="548.42"/><line x1="328.20000000000005" y1="548.42" x2="323.84" y2="548.42"/><line x1="37.6" y1="544.49" x2="41.96" y2="544.49"/><line x1="328.20000000000005" y1="544.49" x2="323.84" y2="544.49"/><line x1="37.6" y1="540.55" x2="41.96" y2="540.55"/><line x1="328.20000000000005" y1="540.55" x2="323.84" y2="540.55"/><line x1="37.6" y1="536.62" x2="41.96" y2="536.62"/><line x1="328.20000000000005" y1="536.62" x2="323.84" y2="536.62"/><line x1="37.6" y1="532.68" x2="46.32" y2="532.68"/><line x1="328.20000000000005" y1="532.68" x2="319.48" y2="532.68"/><line x1="37.6" y1="528.74" x2="41.96" y2="528.74"/><line x1="328.20000000000005" y1="528.74" x2="323.84" y2="528.74"/><line x1="37.6" y1="524.81" x2="41.96" y2="524.81"/><line x1="328.20000000000005" y1="524.81" x2="323.84" y2="524.81"/><line x1="37.6" y1="520.87" x2="41.96" y2="520.87"/><line x1="328.20000000000005" y1="520.87" x2="323.84" y2="520.87"/><line x1="37.6" y1="516.94" x2="41.96" y2="516.94"/><line x1="328.20000000000005" y1="516.94" x2="323.84" y2="516.94"/><line x1="37.6" y1="513.00" x2="46.32" y2="513.00"/><line x1="328.20000000000005" y1="513.00" x2="319.48" y2="513.00"/></g>
<rect x="37.6" y="513.0" width="290.6" height="196.80" fill="none" stroke="#333" stroke-width="1.1"/>
<g font-family="Liberation Sans" fill="#111"><text x="37.20" y="714.40" text-anchor="end" font-size="10.6">0.8</text><text x="37.20" y="694.72" text-anchor="end" font-size="10.6">0.85</text><text x="37.20" y="675.04" text-anchor="end" font-size="10.6">0.9</text><text x="37.20" y="655.36" text-anchor="end" font-size="10.6">0.95</text><text x="37.20" y="635.68" text-anchor="end" font-size="10.6">1</text><text x="37.20" y="616.00" text-anchor="end" font-size="10.6">1.05</text><text x="37.20" y="596.32" text-anchor="end" font-size="10.6">1.1</text><text x="37.20" y="576.64" text-anchor="end" font-size="10.6">1.15</text><text x="37.20" y="556.96" text-anchor="end" font-size="10.6">1.2</text><text x="37.20" y="537.28" text-anchor="end" font-size="10.6">1.25</text><text x="37.20" y="517.60" text-anchor="end" font-size="10.6">1.3</text><text x="49.95" y="722.70" font-size="10">10<tspan dy="-4.4" font-size="7.3">-4</tspan></text><text x="121.19" y="722.70" font-size="10">10<tspan dy="-4.4" font-size="7.3">-3</tspan></text><text x="192.42" y="722.70" font-size="10">10<tspan dy="-4.4" font-size="7.3">-2</tspan></text><text x="263.66" y="722.70" font-size="10">10<tspan dy="-4.4" font-size="7.3">-1</tspan></text></g>
<text x="187.90" y="729.10" font-family="Liberation Sans" font-size="11.2" fill="#111">x</text>
<text x="182.90" y="9.9" transform="translate(0,495.50)" text-anchor="middle" font-family="Liberation Sans" font-size="11.6" fill="#1a1a1a">NNLO, Q = 100 GeV</text>
<text transform="translate(13.90,613.40) rotate(-90)" text-anchor="middle" font-family="Liberation Sans" font-size="11.6" fill="#111">s<tspan dy="-4.6" font-size="8.2">+</tspan><tspan dy="4.6"> </tspan>( x, Q<tspan dy="-4.8" font-size="8.3">2</tspan><tspan dy="4.8">) / </tspan>s<tspan dy="-4.6" font-size="8.2">+</tspan><tspan dy="4.6"> </tspan>( x, Q<tspan dy="-4.8" font-size="8.3">2</tspan><tspan dy="4.8">) [ref]</tspan></text>
<clipPath id="clip4"><rect x="37.6" y="513.0" width="291.8" height="196.80"/></clipPath>
<g clip-path="url(#clip4)">
<path d="M37.60,607.80 C45.83,608.18 74.93,609.60 87.00,610.10 C99.07,610.60 99.50,610.48 110.00,610.80 C120.50,611.12 136.67,611.75 150.00,612.00 C163.33,612.25 176.67,612.25 190.00,612.30 C203.33,612.35 221.67,612.43 230.00,612.30 C238.33,612.17 236.93,612.05 240.00,611.50 C243.07,610.95 245.07,610.08 248.40,609.00 C251.73,607.92 256.40,606.27 260.00,605.00 C263.60,603.73 267.00,602.40 270.00,601.40 C273.00,600.40 275.67,599.90 278.00,599.00 C280.33,598.10 282.50,597.03 284.00,596.00 C285.50,594.97 286.00,594.62 287.00,592.80 C288.00,590.98 289.00,587.83 290.00,585.10 C291.00,582.37 292.17,579.13 293.00,576.40 C293.83,573.67 294.33,571.77 295.00,568.70 C295.67,565.63 296.17,562.78 297.00,558.00 C297.83,553.22 299.08,545.50 300.00,540.00 C300.92,534.50 301.75,529.50 302.50,525.00 C303.25,520.50 304.17,515.00 304.50,513.00 L328.60,513.00 L328.60,709.80L290.00,709.80 C289.17,705.67 287.50,691.97 285.00,685.00 C282.50,678.03 278.33,672.83 275.00,668.00 C271.67,663.17 268.33,658.83 265.00,656.00 C261.67,653.17 258.67,652.07 255.00,651.00 C251.33,649.93 250.00,649.83 243.00,649.60 C236.00,649.37 222.33,649.70 213.00,649.60 C203.67,649.50 199.67,649.17 187.00,649.00 C174.33,648.83 149.83,648.65 137.00,648.60 C124.17,648.55 118.33,648.47 110.00,648.70 C101.67,648.93 99.07,649.20 87.00,650.00 C74.93,650.80 45.83,652.92 37.60,653.50 Z" fill="#00ff00"/>
<clipPath id="gclip4"><path d="M37.60,607.80 C45.83,608.18 74.93,609.60 87.00,610.10 C99.07,610.60 99.50,610.48 110.00,610.80 C120.50,611.12 136.67,611.75 150.00,612.00 C163.33,612.25 176.67,612.25 190.00,612.30 C203.33,612.35 221.67,612.43 230.00,612.30 C238.33,612.17 236.93,612.05 240.00,611.50 C243.07,610.95 245.07,610.08 248.40,609.00 C251.73,607.92 256.40,606.27 260.00,605.00 C263.60,603.73 267.00,602.40 270.00,601.40 C273.00,600.40 275.67,599.90 278.00,599.00 C280.33,598.10 282.50,597.03 284.00,596.00 C285.50,594.97 286.00,594.62 287.00,592.80 C288.00,590.98 289.00,587.83 290.00,585.10 C291.00,582.37 292.17,579.13 293.00,576.40 C293.83,573.67 294.33,571.77 295.00,568.70 C295.67,565.63 296.17,562.78 297.00,558.00 C297.83,553.22 299.08,545.50 300.00,540.00 C300.92,534.50 301.75,529.50 302.50,525.00 C303.25,520.50 304.17,515.00 304.50,513.00 L328.60,513.00 L328.60,709.80L290.00,709.80 C289.17,705.67 287.50,691.97 285.00,685.00 C282.50,678.03 278.33,672.83 275.00,668.00 C271.67,663.17 268.33,658.83 265.00,656.00 C261.67,653.17 258.67,652.07 255.00,651.00 C251.33,649.93 250.00,649.83 243.00,649.60 C236.00,649.37 222.33,649.70 213.00,649.60 C203.67,649.50 199.67,649.17 187.00,649.00 C174.33,648.83 149.83,648.65 137.00,648.60 C124.17,648.55 118.33,648.47 110.00,648.70 C101.67,648.93 99.07,649.20 87.00,650.00 C74.93,650.80 45.83,652.92 37.60,653.50 Z"/></clipPath>
<line x1="37.6" y1="631.08" x2="328.20000000000005" y2="631.08" stroke="#0b5a0b" stroke-width="1.2" stroke-dasharray="1.6,2.3" clip-path="url(#gclip4)"/>
<path d="M37.60,611.00 C45.83,611.42 74.93,612.67 87.00,613.50 C99.07,614.33 100.33,614.90 110.00,616.00 C119.67,617.10 135.27,618.73 145.00,620.10 C154.73,621.47 160.90,622.83 168.40,624.20 C175.90,625.57 184.45,626.93 190.00,628.30 C195.55,629.67 197.80,631.13 201.70,632.40 C205.60,633.67 209.52,635.03 213.40,635.90 C217.28,636.77 221.12,637.50 225.00,637.60 C228.88,637.70 233.20,637.37 236.70,636.50 C240.20,635.63 243.08,634.83 246.00,632.40 C248.92,629.97 251.87,624.82 254.20,621.90 C256.53,618.98 258.05,616.55 260.00,614.90 C261.95,613.25 264.23,612.58 265.90,612.00 C267.57,611.42 267.98,612.07 270.00,611.40 C272.02,610.73 275.50,609.28 278.00,608.00 C280.50,606.72 283.00,605.15 285.00,603.70 C287.00,602.25 288.67,601.30 290.00,599.30 C291.33,597.30 292.17,594.92 293.00,591.70 C293.83,588.48 294.25,584.45 295.00,580.00 C295.75,575.55 296.58,570.83 297.50,565.00 C298.42,559.17 299.58,550.83 300.50,545.00 C301.42,539.17 302.25,535.33 303.00,530.00 C303.75,524.67 304.67,515.83 305.00,513.00 L328.60,513.00 L328.60,709.80L287.00,709.80 C286.33,706.72 284.67,696.43 283.00,691.30 C281.33,686.17 279.17,682.18 277.00,679.00 C274.83,675.82 272.33,673.87 270.00,672.20 C267.67,670.53 265.50,668.20 263.00,669.00 C260.50,669.80 258.00,674.50 255.00,677.00 C252.00,679.50 248.83,682.25 245.00,684.00 C241.17,685.75 236.57,687.18 232.00,687.50 C227.43,687.82 222.93,686.52 217.60,685.90 C212.27,685.28 205.83,684.58 200.00,683.80 C194.17,683.02 188.43,682.22 182.60,681.20 C176.77,680.18 170.85,678.87 165.00,677.70 C159.15,676.53 153.33,675.52 147.50,674.20 C141.67,672.88 136.25,671.33 130.00,669.80 C123.75,668.27 117.17,666.38 110.00,665.00 C102.83,663.62 99.07,662.68 87.00,661.50 C74.93,660.32 45.83,658.50 37.60,657.90 Z" fill="url(#hred)"/>
<path d="M37.60,611.00 C45.83,611.42 74.93,612.67 87.00,613.50 C99.07,614.33 100.33,614.90 110.00,616.00 C119.67,617.10 135.27,618.73 145.00,620.10 C154.73,621.47 160.90,622.83 168.40,624.20 C175.90,625.57 184.45,626.93 190.00,628.30 C195.55,629.67 197.80,631.13 201.70,632.40 C205.60,633.67 209.52,635.03 213.40,635.90 C217.28,636.77 221.12,637.50 225.00,637.60 C228.88,637.70 233.20,637.37 236.70,636.50 C240.20,635.63 243.08,634.83 246.00,632.40 C248.92,629.97 251.87,624.82 254.20,621.90 C256.53,618.98 258.05,616.55 260.00,614.90 C261.95,613.25 264.23,612.58 265.90,612.00 C267.57,611.42 267.98,612.07 270.00,611.40 C272.02,610.73 275.50,609.28 278.00,608.00 C280.50,606.72 283.00,605.15 285.00,603.70 C287.00,602.25 288.67,601.30 290.00,599.30 C291.33,597.30 292.17,594.92 293.00,591.70 C293.83,588.48 294.25,584.45 295.00,580.00 C295.75,575.55 296.58,570.83 297.50,565.00 C298.42,559.17 299.58,550.83 300.50,545.00 C301.42,539.17 302.25,535.33 303.00,530.00 C303.75,524.67 304.67,515.83 305.00,513.00" fill="none" stroke="#e01010" stroke-width="1.2"/>
<path d="M37.60,657.90 C45.83,658.50 74.93,660.32 87.00,661.50 C99.07,662.68 102.83,663.62 110.00,665.00 C117.17,666.38 123.75,668.27 130.00,669.80 C136.25,671.33 141.67,672.88 147.50,674.20 C153.33,675.52 159.15,676.53 165.00,677.70 C170.85,678.87 176.77,680.18 182.60,681.20 C188.43,682.22 194.17,683.02 200.00,683.80 C205.83,684.58 212.27,685.28 217.60,685.90 C222.93,686.52 227.43,687.82 232.00,687.50 C236.57,687.18 241.17,685.75 245.00,684.00 C248.83,682.25 252.00,679.50 255.00,677.00 C258.00,674.50 260.50,669.80 263.00,669.00 C265.50,668.20 267.67,670.53 270.00,672.20 C272.33,673.87 274.83,675.82 277.00,679.00 C279.17,682.18 281.33,686.17 283.00,691.30 C284.67,696.43 286.33,706.72 287.00,709.80" fill="none" stroke="#e01010" stroke-width="1.2"/>
<path d="M37.60,611.20 C45.83,611.80 74.93,613.50 87.00,614.80 C99.07,616.10 100.33,617.33 110.00,619.00 C119.67,620.67 135.27,622.97 145.00,624.80 C154.73,626.63 160.90,628.05 168.40,630.00 C175.90,631.95 184.45,634.25 190.00,636.50 C195.55,638.75 197.70,640.87 201.70,643.50 C205.70,646.13 210.18,650.12 214.00,652.30 C217.82,654.48 221.10,655.73 224.60,656.60 C228.10,657.47 231.78,657.93 235.00,657.50 C238.22,657.07 241.40,655.45 243.90,654.00 C246.40,652.55 248.08,651.23 250.00,648.80 C251.92,646.37 253.33,642.13 255.40,639.40 C257.47,636.67 259.97,634.35 262.40,632.40 C264.83,630.45 267.07,629.57 270.00,627.70 C272.93,625.83 277.17,623.93 280.00,621.20 C282.83,618.47 285.00,615.50 287.00,611.30 C289.00,607.10 290.67,600.92 292.00,596.00 C293.33,591.08 294.17,585.98 295.00,581.80 C295.83,577.62 296.33,574.53 297.00,570.90 C297.67,567.27 298.17,565.15 299.00,560.00 C299.83,554.85 300.93,547.83 302.00,540.00 C303.07,532.17 304.83,517.50 305.40,513.00 L328.60,513.00 L328.60,709.80L294.00,709.80 C293.33,707.53 291.50,700.32 290.00,696.20 C288.50,692.08 287.00,688.58 285.00,685.10 C283.00,681.62 280.50,677.75 278.00,675.30 C275.50,672.85 272.50,671.43 270.00,670.40 C267.50,669.37 265.00,668.90 263.00,669.10 C261.00,669.30 260.17,669.58 258.00,671.60 C255.83,673.62 252.65,678.88 250.00,681.20 C247.35,683.52 245.17,684.53 242.10,685.50 C239.03,686.47 235.68,687.13 231.60,687.00 C227.52,686.87 222.87,685.67 217.60,684.70 C212.33,683.73 205.83,682.52 200.00,681.20 C194.17,679.88 188.43,678.42 182.60,676.80 C176.77,675.18 170.85,673.40 165.00,671.50 C159.15,669.60 153.33,667.58 147.50,665.40 C141.67,663.22 136.25,660.60 130.00,658.40 C123.75,656.20 117.17,653.98 110.00,652.20 C102.83,650.42 99.07,648.08 87.00,647.70 C74.93,647.32 45.83,649.53 37.60,649.90 Z" fill="url(#hblue)"/>
<path d="M250.00,650.50 C254.17,650.50 266.42,650.58 275.00,650.50 C283.58,650.42 295.85,655.38 301.50,650.00 C307.15,644.62 306.43,633.73 308.90,618.20 C311.37,602.67 314.25,574.33 316.30,556.80 C318.35,539.27 320.38,520.30 321.20,513.00" fill="none" stroke="#2020c0" stroke-width="0.9" stroke-opacity="0.75" stroke-dasharray="2.4,2"/>
<path d="M37.60,611.20 C45.83,611.80 74.93,613.50 87.00,614.80 C99.07,616.10 100.33,617.33 110.00,619.00 C119.67,620.67 135.27,622.97 145.00,624.80 C154.73,626.63 160.90,628.05 168.40,630.00 C175.90,631.95 184.45,634.25 190.00,636.50 C195.55,638.75 197.70,640.87 201.70,643.50 C205.70,646.13 210.18,650.12 214.00,652.30 C217.82,654.48 221.10,655.73 224.60,656.60 C228.10,657.47 231.78,657.93 235.00,657.50 C238.22,657.07 241.40,655.45 243.90,654.00 C246.40,652.55 248.08,651.23 250.00,648.80 C251.92,646.37 253.33,642.13 255.40,639.40 C257.47,636.67 259.97,634.35 262.40,632.40 C264.83,630.45 267.07,629.57 270.00,627.70 C272.93,625.83 277.17,623.93 280.00,621.20 C282.83,618.47 285.00,615.50 287.00,611.30 C289.00,607.10 290.67,600.92 292.00,596.00 C293.33,591.08 294.17,585.98 295.00,581.80 C295.83,577.62 296.33,574.53 297.00,570.90 C297.67,567.27 298.17,565.15 299.00,560.00 C299.83,554.85 300.93,547.83 302.00,540.00 C303.07,532.17 304.83,517.50 305.40,513.00" fill="none" stroke="#1010e0" stroke-width="1.3"/>
<path d="M37.60,649.90 C45.83,649.53 74.93,647.32 87.00,647.70 C99.07,648.08 102.83,650.42 110.00,652.20 C117.17,653.98 123.75,656.20 130.00,658.40 C136.25,660.60 141.67,663.22 147.50,665.40 C153.33,667.58 159.15,669.60 165.00,671.50 C170.85,673.40 176.77,675.18 182.60,676.80 C188.43,678.42 194.17,679.88 200.00,681.20 C205.83,682.52 212.33,683.73 217.60,684.70 C222.87,685.67 227.52,686.87 231.60,687.00 C235.68,687.13 239.03,686.47 242.10,685.50 C245.17,684.53 247.35,683.52 250.00,681.20 C252.65,678.88 255.83,673.62 258.00,671.60 C260.17,669.58 261.00,669.30 263.00,669.10 C265.00,668.90 267.50,669.37 270.00,670.40 C272.50,671.43 275.50,672.85 278.00,675.30 C280.50,677.75 283.00,681.62 285.00,685.10 C287.00,688.58 288.50,692.08 290.00,696.20 C291.50,700.32 293.33,707.53 294.00,709.80" fill="none" stroke="#1010e0" stroke-width="1.3"/>
</g>
<g stroke="#333" stroke-width="0.9" fill="none"><line x1="393.30" y1="709.8" x2="393.30" y2="706.85"/><line x1="393.30" y1="513.0" x2="393.30" y2="515.95"/><line x1="398.94" y1="709.8" x2="398.94" y2="706.85"/><line x1="398.94" y1="513.0" x2="398.94" y2="515.95"/><line x1="403.71" y1="709.8" x2="403.71" y2="706.85"/><line x1="403.71" y1="513.0" x2="403.71" y2="515.95"/><line x1="407.84" y1="709.8" x2="407.84" y2="706.85"/><line x1="407.84" y1="513.0" x2="407.84" y2="515.95"/><line x1="411.49" y1="709.8" x2="411.49" y2="706.85"/><line x1="411.49" y1="513.0" x2="411.49" y2="515.95"/><line x1="414.75" y1="709.8" x2="414.75" y2="703.90"/><line x1="414.75" y1="513.0" x2="414.75" y2="518.90"/><line x1="436.19" y1="709.8" x2="436.19" y2="706.85"/><line x1="436.19" y1="513.0" x2="436.19" y2="515.95"/><line x1="448.74" y1="709.8" x2="448.74" y2="706.85"/><line x1="448.74" y1="513.0" x2="448.74" y2="515.95"/><line x1="457.64" y1="709.8" x2="457.64" y2="706.85"/><line x1="457.64" y1="513.0" x2="457.64" y2="515.95"/><line x1="464.54" y1="709.8" x2="464.54" y2="706.85"/><line x1="464.54" y1="513.0" x2="464.54" y2="515.95"/><line x1="470.18" y1="709.8" x2="470.18" y2="706.85"/><line x1="470.18" y1="513.0" x2="470.18" y2="515.95"/><line x1="474.95" y1="709.8" x2="474.95" y2="706.85"/><line x1="474.95" y1="513.0" x2="474.95" y2="515.95"/><line x1="479.08" y1="709.8" x2="479.08" y2="706.85"/><line x1="479.08" y1="513.0" x2="479.08" y2="515.95"/><line x1="482.73" y1="709.8" x2="482.73" y2="706.85"/><line x1="482.73" y1="513.0" x2="482.73" y2="515.95"/><line x1="485.99" y1="709.8" x2="485.99" y2="703.90"/><line x1="485.99" y1="513.0" x2="485.99" y2="518.90"/><line x1="507.43" y1="709.8" x2="507.43" y2="706.85"/><line x1="507.43" y1="513.0" x2="507.43" y2="515.95"/><line x1="519.98" y1="709.8" x2="519.98" y2="706.85"/><line x1="519.98" y1="513.0" x2="519.98" y2="515.95"/><line x1="528.88" y1="709.8" x2="528.88" y2="706.85"/><line x1="528.88" y1="513.0" x2="528.88" y2="515.95"/><line x1="535.78" y1="709.8" x2="535.78" y2="706.85"/><line x1="535.78" y1="513.0" x2="535.78" y2="515.95"/><line x1="541.42" y1="709.8" x2="541.42" y2="706.85"/><line x1="541.42" y1="513.0" x2="541.42" y2="515.95"/><line x1="546.19" y1="709.8" x2="546.19" y2="706.85"/><line x1="546.19" y1="513.0" x2="546.19" y2="515.95"/><line x1="550.32" y1="709.8" x2="550.32" y2="706.85"/><line x1="550.32" y1="513.0" x2="550.32" y2="515.95"/><line x1="553.97" y1="709.8" x2="553.97" y2="706.85"/><line x1="553.97" y1="513.0" x2="553.97" y2="515.95"/><line x1="557.22" y1="709.8" x2="557.22" y2="703.90"/><line x1="557.22" y1="513.0" x2="557.22" y2="518.90"/><line x1="578.67" y1="709.8" x2="578.67" y2="706.85"/><line x1="578.67" y1="513.0" x2="578.67" y2="515.95"/><line x1="591.21" y1="709.8" x2="591.21" y2="706.85"/><line x1="591.21" y1="513.0" x2="591.21" y2="515.95"/><line x1="600.12" y1="709.8" x2="600.12" y2="706.85"/><line x1="600.12" y1="513.0" x2="600.12" y2="515.95"/><line x1="607.02" y1="709.8" x2="607.02" y2="706.85"/><line x1="607.02" y1="513.0" x2="607.02" y2="515.95"/><line x1="612.66" y1="709.8" x2="612.66" y2="706.85"/><line x1="612.66" y1="513.0" x2="612.66" y2="515.95"/><line x1="617.43" y1="709.8" x2="617.43" y2="706.85"/><line x1="617.43" y1="513.0" x2="617.43" y2="515.95"/><line x1="621.56" y1="709.8" x2="621.56" y2="706.85"/><line x1="621.56" y1="513.0" x2="621.56" y2="515.95"/><line x1="625.20" y1="709.8" x2="625.20" y2="706.85"/><line x1="625.20" y1="513.0" x2="625.20" y2="515.95"/><line x1="628.46" y1="709.8" x2="628.46" y2="703.90"/><line x1="628.46" y1="513.0" x2="628.46" y2="518.90"/><line x1="649.91" y1="709.8" x2="649.91" y2="706.85"/><line x1="649.91" y1="513.0" x2="649.91" y2="515.95"/><line x1="662.45" y1="709.8" x2="662.45" y2="706.85"/><line x1="662.45" y1="513.0" x2="662.45" y2="515.95"/><line x1="671.36" y1="709.8" x2="671.36" y2="706.85"/><line x1="671.36" y1="513.0" x2="671.36" y2="515.95"/><line x1="678.26" y1="709.8" x2="678.26" y2="706.85"/><line x1="678.26" y1="513.0" x2="678.26" y2="515.95"/><line x1="683.90" y1="709.8" x2="683.90" y2="706.85"/><line x1="683.90" y1="513.0" x2="683.90" y2="515.95"/><line x1="393.3" y1="709.80" x2="397.66" y2="709.80"/><line x1="683.9000000000001" y1="709.80" x2="679.54" y2="709.80"/><line x1="393.3" y1="702.64" x2="397.66" y2="702.64"/><line x1="683.9000000000001" y1="702.64" x2="679.54" y2="702.64"/><line x1="393.3" y1="695.49" x2="397.66" y2="695.49"/><line x1="683.9000000000001" y1="695.49" x2="679.54" y2="695.49"/><line x1="393.3" y1="688.33" x2="397.66" y2="688.33"/><line x1="683.9000000000001" y1="688.33" x2="679.54" y2="688.33"/><line x1="393.3" y1="681.17" x2="397.66" y2="681.17"/><line x1="683.9000000000001" y1="681.17" x2="679.54" y2="681.17"/><line x1="393.3" y1="674.02" x2="397.66" y2="674.02"/><line x1="683.9000000000001" y1="674.02" x2="679.54" y2="674.02"/><line x1="393.3" y1="666.86" x2="397.66" y2="666.86"/><line x1="683.9000000000001" y1="666.86" x2="679.54" y2="666.86"/><line x1="393.3" y1="659.71" x2="397.66" y2="659.71"/><line x1="683.9000000000001" y1="659.71" x2="679.54" y2="659.71"/><line x1="393.3" y1="652.55" x2="397.66" y2="652.55"/><line x1="683.9000000000001" y1="652.55" x2="679.54" y2="652.55"/><line x1="393.3" y1="645.39" x2="397.66" y2="645.39"/><line x1="683.9000000000001" y1="645.39" x2="679.54" y2="645.39"/><line x1="393.3" y1="638.24" x2="397.66" y2="638.24"/><line x1="683.9000000000001" y1="638.24" x2="679.54" y2="638.24"/><line x1="393.3" y1="631.08" x2="397.66" y2="631.08"/><line x1="683.9000000000001" y1="631.08" x2="679.54" y2="631.08"/><line x1="393.3" y1="623.92" x2="397.66" y2="623.92"/><line x1="683.9000000000001" y1="623.92" x2="679.54" y2="623.92"/><line x1="393.3" y1="616.77" x2="397.66" y2="616.77"/><line x1="683.9000000000001" y1="616.77" x2="679.54" y2="616.77"/><line x1="393.3" y1="609.61" x2="397.66" y2="609.61"/><line x1="683.9000000000001" y1="609.61" x2="679.54" y2="609.61"/><line x1="393.3" y1="602.45" x2="397.66" y2="602.45"/><line x1="683.9000000000001" y1="602.45" x2="679.54" y2="602.45"/><line x1="393.3" y1="595.30" x2="397.66" y2="595.30"/><line x1="683.9000000000001" y1="595.30" x2="679.54" y2="595.30"/><line x1="393.3" y1="588.14" x2="397.66" y2="588.14"/><line x1="683.9000000000001" y1="588.14" x2="679.54" y2="588.14"/><line x1="393.3" y1="580.99" x2="397.66" y2="580.99"/><line x1="683.9000000000001" y1="580.99" x2="679.54" y2="580.99"/><line x1="393.3" y1="573.83" x2="397.66" y2="573.83"/><line x1="683.9000000000001" y1="573.83" x2="679.54" y2="573.83"/><line x1="393.3" y1="566.67" x2="397.66" y2="566.67"/><line x1="683.9000000000001" y1="566.67" x2="679.54" y2="566.67"/><line x1="393.3" y1="559.52" x2="397.66" y2="559.52"/><line x1="683.9000000000001" y1="559.52" x2="679.54" y2="559.52"/><line x1="393.3" y1="552.36" x2="397.66" y2="552.36"/><line x1="683.9000000000001" y1="552.36" x2="679.54" y2="552.36"/><line x1="393.3" y1="545.20" x2="397.66" y2="545.20"/><line x1="683.9000000000001" y1="545.20" x2="679.54" y2="545.20"/><line x1="393.3" y1="538.05" x2="397.66" y2="538.05"/><line x1="683.9000000000001" y1="538.05" x2="679.54" y2="538.05"/><line x1="393.3" y1="530.89" x2="397.66" y2="530.89"/><line x1="683.9000000000001" y1="530.89" x2="679.54" y2="530.89"/><line x1="393.3" y1="523.73" x2="397.66" y2="523.73"/><line x1="683.9000000000001" y1="523.73" x2="679.54" y2="523.73"/><line x1="393.3" y1="516.58" x2="397.66" y2="516.58"/><line x1="683.9000000000001" y1="516.58" x2="679.54" y2="516.58"/><line x1="393.3" y1="509.42" x2="397.66" y2="509.42"/><line x1="683.9000000000001" y1="509.42" x2="679.54" y2="509.42"/></g>
<rect x="393.3" y="513.0" width="290.6" height="196.80" fill="none" stroke="#333" stroke-width="1.1"/>
<g font-family="Liberation Sans" fill="#111"><text x="392.90" y="696.51" text-anchor="end" font-size="10.6">0.8</text><text x="392.90" y="660.73" text-anchor="end" font-size="10.6">0.9</text><text x="392.90" y="624.95" text-anchor="end" font-size="10.6">1</text><text x="392.90" y="589.16" text-anchor="end" font-size="10.6">1.1</text><text x="392.90" y="553.38" text-anchor="end" font-size="10.6">1.2</text><text x="392.90" y="517.60" text-anchor="end" font-size="10.6">1.3</text><text x="405.65" y="722.70" font-size="10">10<tspan dy="-4.4" font-size="7.3">-4</tspan></text><text x="476.89" y="722.70" font-size="10">10<tspan dy="-4.4" font-size="7.3">-3</tspan></text><text x="548.12" y="722.70" font-size="10">10<tspan dy="-4.4" font-size="7.3">-2</tspan></text><text x="619.36" y="722.70" font-size="10">10<tspan dy="-4.4" font-size="7.3">-1</tspan></text></g>
<text x="543.60" y="729.10" font-family="Liberation Sans" font-size="11.2" fill="#111">x</text>
<text x="538.60" y="9.9" transform="translate(0,495.50)" text-anchor="middle" font-family="Liberation Sans" font-size="11.6" fill="#1a1a1a">NNLO, Q = 100 GeV</text>
<text transform="translate(369.60,611.90) rotate(-90)" text-anchor="middle" font-family="Liberation Sans" font-size="11.6" fill="#111">c<tspan dy="-4.6" font-size="8.2">+</tspan><tspan dy="4.6"> </tspan>( x, Q<tspan dy="-4.8" font-size="8.3">2</tspan><tspan dy="4.8">) / </tspan>c<tspan dy="-4.6" font-size="8.2">+</tspan><tspan dy="4.6"> </tspan>( x, Q<tspan dy="-4.8" font-size="8.3">2</tspan><tspan dy="4.8">) [ref]</tspan></text>
<clipPath id="clip5"><rect x="393.3" y="513.0" width="291.8" height="196.80"/></clipPath>
<g clip-path="url(#clip5)">
<path d="M393.30,611.00 C401.58,611.50 426.38,612.67 443.00,614.00 C459.62,615.33 478.00,618.50 493.00,619.00 C508.00,619.50 522.10,618.57 533.00,617.00 C543.90,615.43 550.52,611.55 558.40,609.60 C566.28,607.65 575.03,606.37 580.30,605.30 C585.57,604.23 586.55,603.92 590.00,603.20 C593.45,602.48 597.35,602.47 601.00,601.00 C604.65,599.53 608.62,596.72 611.90,594.40 C615.18,592.08 618.27,589.42 620.70,587.10 C623.13,584.78 624.93,582.68 626.50,580.50 C628.07,578.32 629.02,576.17 630.10,574.00 C631.18,571.83 631.93,570.08 633.00,567.50 C634.07,564.92 635.42,561.75 636.50,558.50 C637.58,555.25 638.67,550.97 639.50,548.00 C640.33,545.03 640.85,543.63 641.50,540.70 C642.15,537.77 642.75,535.02 643.40,530.40 C644.05,525.78 645.07,515.90 645.40,513.00 L680.80,513.00 L680.80,709.80L639.80,709.80 C639.38,707.95 638.53,703.85 637.30,698.70 C636.07,693.55 634.28,684.85 632.40,678.90 C630.52,672.95 628.43,667.47 626.00,663.00 C623.57,658.53 620.98,655.28 617.80,652.10 C614.62,648.92 612.37,646.63 606.90,643.90 C601.43,641.17 590.65,637.63 585.00,635.70 C579.35,633.77 578.33,633.48 573.00,632.30 C567.67,631.12 559.67,629.58 553.00,628.60 C546.33,627.62 539.67,626.88 533.00,626.40 C526.33,625.92 519.67,625.70 513.00,625.70 C506.33,625.70 504.67,626.27 493.00,626.40 C481.33,626.53 459.62,626.00 443.00,626.50 C426.38,627.00 401.58,628.92 393.30,629.40 Z" fill="#00ff00"/>
<clipPath id="gclip5"><path d="M393.30,611.00 C401.58,611.50 426.38,612.67 443.00,614.00 C459.62,615.33 478.00,618.50 493.00,619.00 C508.00,619.50 522.10,618.57 533.00,617.00 C543.90,615.43 550.52,611.55 558.40,609.60 C566.28,607.65 575.03,606.37 580.30,605.30 C585.57,604.23 586.55,603.92 590.00,603.20 C593.45,602.48 597.35,602.47 601.00,601.00 C604.65,599.53 608.62,596.72 611.90,594.40 C615.18,592.08 618.27,589.42 620.70,587.10 C623.13,584.78 624.93,582.68 626.50,580.50 C628.07,578.32 629.02,576.17 630.10,574.00 C631.18,571.83 631.93,570.08 633.00,567.50 C634.07,564.92 635.42,561.75 636.50,558.50 C637.58,555.25 638.67,550.97 639.50,548.00 C640.33,545.03 640.85,543.63 641.50,540.70 C642.15,537.77 642.75,535.02 643.40,530.40 C644.05,525.78 645.07,515.90 645.40,513.00 L680.80,513.00 L680.80,709.80L639.80,709.80 C639.38,707.95 638.53,703.85 637.30,698.70 C636.07,693.55 634.28,684.85 632.40,678.90 C630.52,672.95 628.43,667.47 626.00,663.00 C623.57,658.53 620.98,655.28 617.80,652.10 C614.62,648.92 612.37,646.63 606.90,643.90 C601.43,641.17 590.65,637.63 585.00,635.70 C579.35,633.77 578.33,633.48 573.00,632.30 C567.67,631.12 559.67,629.58 553.00,628.60 C546.33,627.62 539.67,626.88 533.00,626.40 C526.33,625.92 519.67,625.70 513.00,625.70 C506.33,625.70 504.67,626.27 493.00,626.40 C481.33,626.53 459.62,626.00 443.00,626.50 C426.38,627.00 401.58,628.92 393.30,629.40 Z"/></clipPath>
<line x1="393.3" y1="620.35" x2="683.9000000000001" y2="620.35" stroke="#0b5a0b" stroke-width="1.2" stroke-dasharray="1.6,2.3" clip-path="url(#gclip5)"/>
<path d="M393.30,607.80 C401.58,608.37 426.38,610.77 443.00,611.20 C459.62,611.63 478.00,611.27 493.00,610.40 C508.00,609.53 523.00,608.23 533.00,606.00 C543.00,603.77 546.83,600.50 553.00,597.00 C559.17,593.50 564.82,589.97 570.00,585.00 C575.18,580.03 580.73,571.18 584.10,567.20 C587.47,563.22 588.15,563.82 590.20,561.10 C592.25,558.38 594.35,554.82 596.40,550.90 C598.45,546.98 600.63,541.87 602.50,537.60 C604.37,533.33 606.07,529.40 607.60,525.30 C609.13,521.20 611.02,515.05 611.70,513.00 L635.70,513.00L635.70,513.00 C635.45,515.90 634.97,525.78 634.20,530.40 C633.43,535.02 631.97,536.95 631.10,540.70 C630.23,544.45 629.65,549.55 629.00,552.90 C628.35,556.25 627.87,558.27 627.20,560.80 C626.53,563.33 625.85,565.78 625.00,568.10 C624.15,570.42 623.32,572.63 622.10,574.70 C620.88,576.77 619.40,578.67 617.70,580.50 C616.00,582.33 614.08,583.87 611.90,585.70 C609.72,587.53 607.03,589.57 604.60,591.50 C602.17,593.43 599.73,595.60 597.30,597.30 C594.87,599.00 594.05,599.88 590.00,601.70 C585.95,603.52 578.27,606.15 573.00,608.20 C567.73,610.25 564.48,612.05 558.40,614.00 C552.32,615.95 543.80,618.68 536.50,619.90 C529.20,621.12 521.85,620.62 514.60,621.30 C507.35,621.98 504.93,623.05 493.00,624.00 C481.07,624.95 459.62,626.10 443.00,627.00 C426.38,627.90 401.58,629.00 393.30,629.40 Z" fill="url(#hred)"/>
<path d="M393.30,607.80 C401.58,608.37 426.38,610.77 443.00,611.20 C459.62,611.63 478.00,611.27 493.00,610.40 C508.00,609.53 523.00,608.23 533.00,606.00 C543.00,603.77 546.83,600.50 553.00,597.00 C559.17,593.50 564.82,589.97 570.00,585.00 C575.18,580.03 580.73,571.18 584.10,567.20 C587.47,563.22 588.15,563.82 590.20,561.10 C592.25,558.38 594.35,554.82 596.40,550.90 C598.45,546.98 600.63,541.87 602.50,537.60 C604.37,533.33 606.07,529.40 607.60,525.30 C609.13,521.20 611.02,515.05 611.70,513.00" fill="none" stroke="#e01010" stroke-width="1.2"/>
<path d="M393.30,629.40 C401.58,629.00 426.38,627.90 443.00,627.00 C459.62,626.10 481.07,624.95 493.00,624.00 C504.93,623.05 507.35,621.98 514.60,621.30 C521.85,620.62 529.20,621.12 536.50,619.90 C543.80,618.68 552.32,615.95 558.40,614.00 C564.48,612.05 567.73,610.25 573.00,608.20 C578.27,606.15 585.95,603.52 590.00,601.70 C594.05,599.88 594.87,599.00 597.30,597.30 C599.73,595.60 602.17,593.43 604.60,591.50 C607.03,589.57 609.72,587.53 611.90,585.70 C614.08,583.87 616.00,582.33 617.70,580.50 C619.40,578.67 620.88,576.77 622.10,574.70 C623.32,572.63 624.15,570.42 625.00,568.10 C625.85,565.78 626.53,563.33 627.20,560.80 C627.87,558.27 628.35,556.25 629.00,552.90 C629.65,549.55 630.23,544.45 631.10,540.70 C631.97,536.95 633.43,535.02 634.20,530.40 C634.97,525.78 635.45,515.90 635.70,513.00" fill="none" stroke="#e01010" stroke-width="1.2"/>
<path d="M393.30,609.70 C401.58,610.13 426.38,612.03 443.00,612.30 C459.62,612.57 481.33,611.88 493.00,611.30 C504.67,610.72 506.33,609.98 513.00,608.80 C519.67,607.62 526.65,606.67 533.00,604.20 C539.35,601.73 544.43,598.03 551.10,594.00 C557.77,589.97 566.92,584.45 573.00,580.00 C579.08,575.55 583.88,570.80 587.60,567.30 C591.32,563.80 592.73,561.63 595.30,559.00 C597.87,556.37 600.43,554.05 603.00,551.50 C605.57,548.95 608.07,546.53 610.70,543.70 C613.33,540.87 616.77,536.28 618.80,534.50 C620.83,532.72 620.85,533.25 622.90,533.00 C624.95,532.75 629.05,532.40 631.10,533.00 C633.15,533.60 634.02,534.82 635.20,536.60 C636.38,538.38 637.18,540.98 638.20,543.70 C639.22,546.42 640.10,548.98 641.30,552.90 C642.50,556.82 644.37,562.68 645.40,567.20 C646.43,571.72 646.82,575.37 647.50,580.00 C648.18,584.63 648.72,588.45 649.50,595.00 C650.28,601.55 651.12,610.28 652.20,619.30 C653.28,628.32 654.83,639.17 656.00,649.10 C657.17,659.03 658.18,668.78 659.20,678.90 C660.22,689.02 661.62,704.65 662.10,709.80L656.00,709.80 C655.58,704.65 654.33,689.02 653.50,678.90 C652.67,668.78 652.03,659.03 651.00,649.10 C649.97,639.17 648.55,628.82 647.30,619.30 C646.05,609.78 644.83,598.98 643.50,592.00 C642.17,585.02 640.60,581.18 639.30,577.40 C638.00,573.62 636.90,571.68 635.70,569.30 C634.50,566.92 633.38,565.15 632.10,563.10 C630.82,561.05 629.85,558.68 628.00,557.00 C626.15,555.32 622.83,553.58 621.00,553.00 C619.17,552.42 618.67,552.67 617.00,553.50 C615.33,554.33 613.07,555.80 611.00,558.00 C608.93,560.20 606.88,564.40 604.60,566.70 C602.32,569.00 599.73,569.98 597.30,571.80 C594.87,573.62 594.05,573.73 590.00,577.60 C585.95,581.47 579.48,589.90 573.00,595.00 C566.52,600.10 558.40,604.42 551.10,608.20 C543.80,611.98 537.72,614.90 529.20,617.70 C520.68,620.50 506.03,623.45 500.00,625.00 C493.97,626.55 502.50,625.53 493.00,627.00 C483.50,628.47 459.62,631.57 443.00,633.80 C426.38,636.03 401.58,639.30 393.30,640.40 Z" fill="url(#hblue)"/>
<path d="M681.30,513.00 L684.00,513.00 L684.00,709.80 L681.30,709.80 Z" fill="url(#hred)"/>
<line x1="681.3" y1="513.0" x2="681.3" y2="709.8" stroke="#e01010" stroke-width="1.2"/>
<path d="M393.30,609.70 C401.58,610.13 426.38,612.03 443.00,612.30 C459.62,612.57 481.33,611.88 493.00,611.30 C504.67,610.72 506.33,609.98 513.00,608.80 C519.67,607.62 526.65,606.67 533.00,604.20 C539.35,601.73 544.43,598.03 551.10,594.00 C557.77,589.97 566.92,584.45 573.00,580.00 C579.08,575.55 583.88,570.80 587.60,567.30 C591.32,563.80 592.73,561.63 595.30,559.00 C597.87,556.37 600.43,554.05 603.00,551.50 C605.57,548.95 608.07,546.53 610.70,543.70 C613.33,540.87 616.77,536.28 618.80,534.50 C620.83,532.72 620.85,533.25 622.90,533.00 C624.95,532.75 629.05,532.40 631.10,533.00 C633.15,533.60 634.02,534.82 635.20,536.60 C636.38,538.38 637.18,540.98 638.20,543.70 C639.22,546.42 640.10,548.98 641.30,552.90 C642.50,556.82 644.37,562.68 645.40,567.20 C646.43,571.72 646.82,575.37 647.50,580.00 C648.18,584.63 648.72,588.45 649.50,595.00 C650.28,601.55 651.12,610.28 652.20,619.30 C653.28,628.32 654.83,639.17 656.00,649.10 C657.17,659.03 658.18,668.78 659.20,678.90 C660.22,689.02 661.62,704.65 662.10,709.80" fill="none" stroke="#1010e0" stroke-width="1.3"/>
<path d="M393.30,640.40 C401.58,639.30 426.38,636.03 443.00,633.80 C459.62,631.57 483.50,628.47 493.00,627.00 C502.50,625.53 493.97,626.55 500.00,625.00 C506.03,623.45 520.68,620.50 529.20,617.70 C537.72,614.90 543.80,611.98 551.10,608.20 C558.40,604.42 566.52,600.10 573.00,595.00 C579.48,589.90 585.95,581.47 590.00,577.60 C594.05,573.73 594.87,573.62 597.30,571.80 C599.73,569.98 602.32,569.00 604.60,566.70 C606.88,564.40 608.93,560.20 611.00,558.00 C613.07,555.80 615.33,554.33 617.00,553.50 C618.67,552.67 619.17,552.42 621.00,553.00 C622.83,553.58 626.15,555.32 628.00,557.00 C629.85,558.68 630.82,561.05 632.10,563.10 C633.38,565.15 634.50,566.92 635.70,569.30 C636.90,571.68 638.00,573.62 639.30,577.40 C640.60,581.18 642.17,585.02 643.50,592.00 C644.83,598.98 646.05,609.78 647.30,619.30 C648.55,628.82 649.97,639.17 651.00,649.10 C652.03,659.03 652.67,668.78 653.50,678.90 C654.33,689.02 655.58,704.65 656.00,709.80" fill="none" stroke="#1010e0" stroke-width="1.3"/>
</g>
<rect x="41.10" y="19.90" width="153.1" height="49.3" fill="#fff" stroke="#555" stroke-width="1.1"/>
<rect x="46.90" y="22.80" width="27" height="11.8" fill="#00ff00"/>
<line x1="46.90" y1="28.60" x2="73.90" y2="28.60" stroke="#0a6a0a" stroke-width="1.2" stroke-dasharray="2,2"/>
<rect x="46.90" y="38.70" width="27" height="11.9" fill="url(#hred)"/>
<rect x="46.90" y="55.10" width="27" height="12.3" fill="url(#hblue)"/>
<g font-family="Liberation Sans" font-size="9.95" fill="#1a1a1a"><text x="79.40" y="32.80">NNPDF3.1</text><text x="79.40" y="49.30">NNPDF3.1 (old dataset)</text><text x="79.40" y="65.80">NNPDF3.0</text></g>
<rect x="396.80" y="19.90" width="153.1" height="49.3" fill="#fff" stroke="#555" stroke-width="1.1"/>
<rect x="402.60" y="22.80" width="27" height="11.8" fill="#00ff00"/>
<line x1="402.60" y1="28.60" x2="429.60" y2="28.60" stroke="#0a6a0a" stroke-width="1.2" stroke-dasharray="2,2"/>
<rect x="402.60" y="38.70" width="27" height="11.9" fill="url(#hred)"/>
<rect x="402.60" y="55.10" width="27" height="12.3" fill="url(#hblue)"/>
<g font-family="Liberation Sans" font-size="9.95" fill="#1a1a1a"><text x="435.10" y="32.80">NNPDF3.1</text><text x="435.10" y="49.30">NNPDF3.1 (old dataset)</text><text x="435.10" y="65.80">NNPDF3.0</text></g>
<rect x="41.10" y="267.80" width="153.1" height="49.3" fill="#fff" stroke="#555" stroke-width="1.1"/>
<rect x="46.90" y="270.70" width="27" height="11.8" fill="#00ff00"/>
<line x1="46.90" y1="276.50" x2="73.90" y2="276.50" stroke="#0a6a0a" stroke-width="1.2" stroke-dasharray="2,2"/>
<rect x="46.90" y="286.60" width="27" height="11.9" fill="url(#hred)"/>
<rect x="46.90" y="303.00" width="27" height="12.3" fill="url(#hblue)"/>
<g font-family="Liberation Sans" font-size="9.95" fill="#1a1a1a"><text x="79.40" y="280.70">NNPDF3.1</text><text x="79.40" y="297.20">NNPDF3.1 (old dataset)</text><text x="79.40" y="313.70">NNPDF3.0</text></g>
<rect x="396.80" y="267.80" width="153.1" height="49.3" fill="#fff" stroke="#555" stroke-width="1.1"/>
<rect x="402.60" y="270.70" width="27" height="11.8" fill="#00ff00"/>
<line x1="402.60" y1="276.50" x2="429.60" y2="276.50" stroke="#0a6a0a" stroke-width="1.2" stroke-dasharray="2,2"/>
<rect x="402.60" y="286.60" width="27" height="11.9" fill="url(#hred)"/>
<rect x="402.60" y="303.00" width="27" height="12.3" fill="url(#hblue)"/>
<g font-family="Liberation Sans" font-size="9.95" fill="#1a1a1a"><text x="435.10" y="280.70">NNPDF3.1</text><text x="435.10" y="297.20">NNPDF3.1 (old dataset)</text><text x="435.10" y="313.70">NNPDF3.0</text></g>
<rect x="41.10" y="515.40" width="153.1" height="49.3" fill="#fff" stroke="#555" stroke-width="1.1"/>
<rect x="46.90" y="518.30" width="27" height="11.8" fill="#00ff00"/>
<line x1="46.90" y1="524.10" x2="73.90" y2="524.10" stroke="#0a6a0a" stroke-width="1.2" stroke-dasharray="2,2"/>
<rect x="46.90" y="534.20" width="27" height="11.9" fill="url(#hred)"/>
<rect x="46.90" y="550.60" width="27" height="12.3" fill="url(#hblue)"/>
<g font-family="Liberation Sans" font-size="9.95" fill="#1a1a1a"><text x="79.40" y="528.30">NNPDF3.1</text><text x="79.40" y="544.80">NNPDF3.1 (old dataset)</text><text x="79.40" y="561.30">NNPDF3.0</text></g>
<rect x="396.80" y="515.40" width="153.1" height="49.3" fill="#fff" stroke="#555" stroke-width="1.1"/>
<rect x="402.60" y="518.30" width="27" height="11.8" fill="#00ff00"/>
<line x1="402.60" y1="524.10" x2="429.60" y2="524.10" stroke="#0a6a0a" stroke-width="1.2" stroke-dasharray="2,2"/>
<rect x="402.60" y="534.20" width="27" height="11.9" fill="url(#hred)"/>
<rect x="402.60" y="550.60" width="27" height="12.3" fill="url(#hblue)"/>
<g font-family="Liberation Sans" font-size="9.95" fill="#1a1a1a"><text x="435.10" y="528.30">NNPDF3.1</text><text x="435.10" y="544.80">NNPDF3.1 (old dataset)</text><text x="435.10" y="561.30">NNPDF3.0</text></g></svg></body></html>
